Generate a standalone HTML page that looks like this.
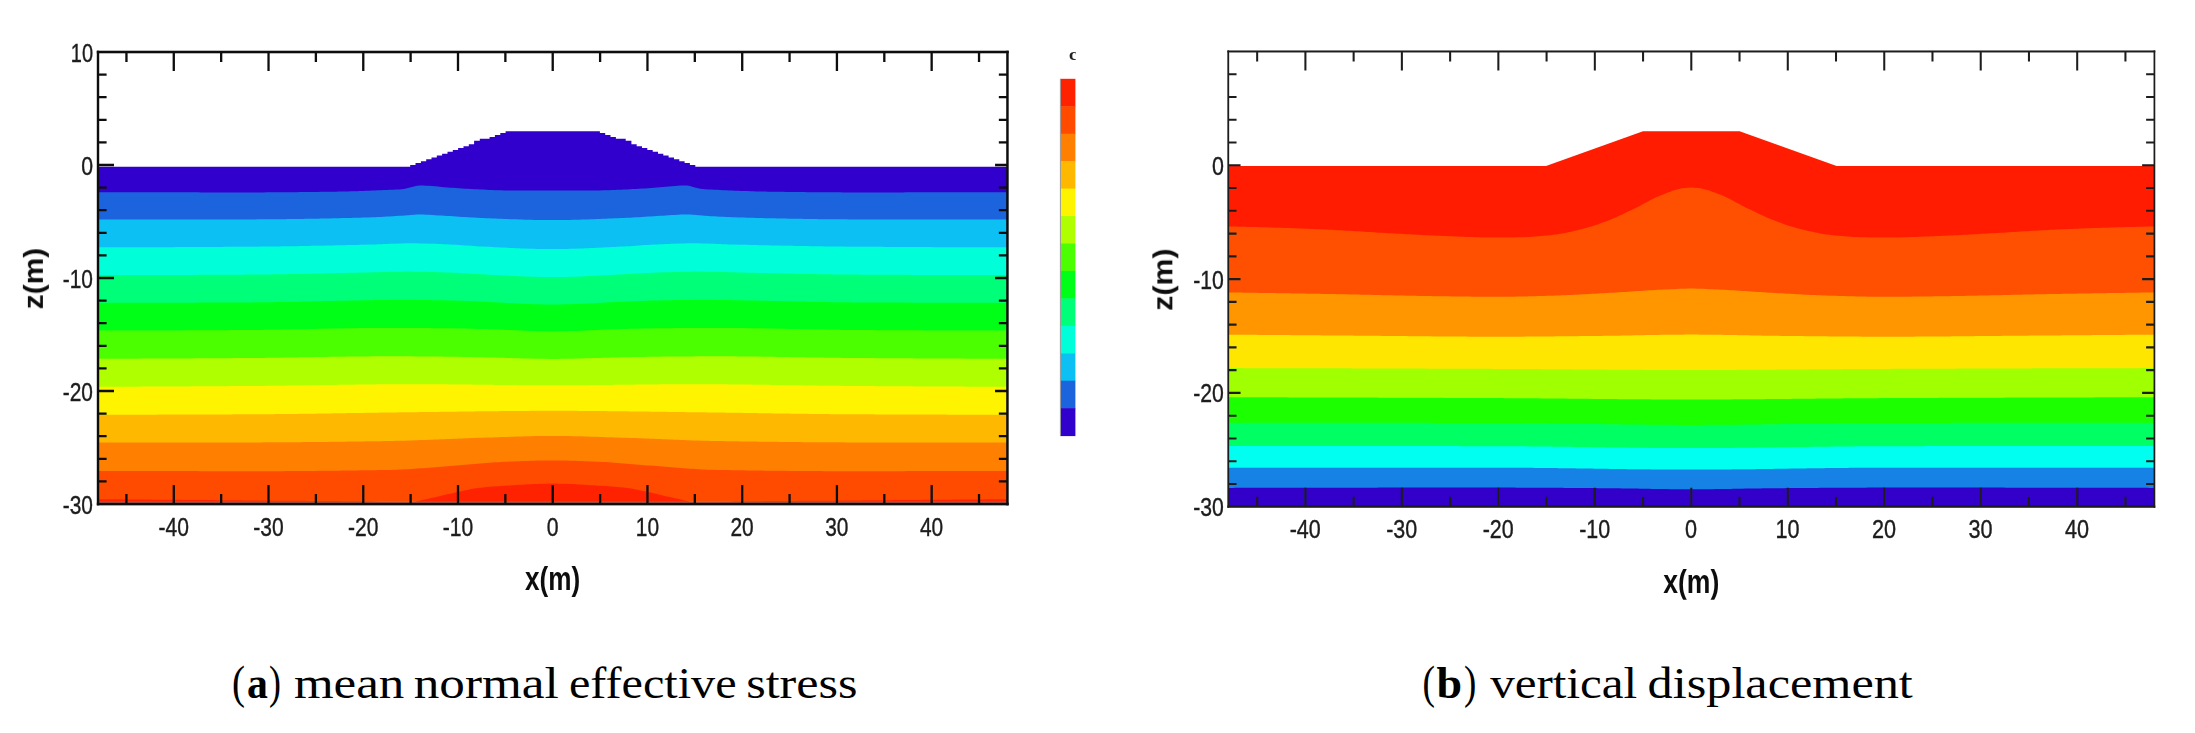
<!DOCTYPE html>
<html><head><meta charset="utf-8"><title>Figure</title>
<style>html,body{margin:0;padding:0;background:#fff}svg{display:block}text{white-space:pre}</style>
</head><body>
<svg width="2195" height="733" viewBox="0 0 2195 733">
<rect width="2195" height="733" fill="#fff"/>
<filter id="bl" x="-2%" y="-2%" width="104%" height="104%"><feGaussianBlur stdDeviation="0.55"/></filter>
<g filter="url(#bl)">
<clipPath id="ca"><rect x="98.0" y="40" width="909.45" height="464.0"/></clipPath>
<g clip-path="url(#ca)" shape-rendering="geometricPrecision">
<path d="M98.0,166.8 L410.2,166.8 L410.2,164.9 L415.5,164.9 L415.5,163.1 L420.9,163.1 L420.9,161.2 L426.2,161.2 L426.2,159.3 L431.5,159.3 L431.5,157.4 L436.8,157.4 L436.8,155.6 L442.1,155.6 L442.1,153.7 L447.5,153.7 L447.5,151.8 L452.8,151.8 L452.8,149.9 L458.1,149.9 L458.1,148.1 L463.5,148.1 L463.5,146.2 L468.8,146.2 L468.8,144.3 L474.1,144.3 L474.1,140.7 L479.8,140.7 L479.8,138.8 L489.6,138.8 L489.6,136.9 L494.9,136.9 L494.9,135.0 L500.3,135.0 L500.3,133.1 L505.6,133.1 L505.6,131.2 L510.9,131.2 L552.7,131.2 L594.5,131.2 L599.9,131.2 L599.9,133.1 L605.2,133.1 L605.2,135.0 L610.5,135.0 L610.5,136.9 L615.9,136.9 L615.9,138.8 L625.7,138.8 L625.7,140.7 L631.4,140.7 L631.4,144.3 L636.7,144.3 L636.7,146.2 L642.0,146.2 L642.0,148.1 L647.3,148.1 L647.3,149.9 L652.7,149.9 L652.7,151.8 L658.0,151.8 L658.0,153.7 L663.3,153.7 L663.3,155.6 L668.6,155.6 L668.6,157.4 L674.0,157.4 L674.0,159.3 L679.3,159.3 L679.3,161.2 L684.6,161.2 L684.6,163.1 L689.9,163.1 L689.9,164.9 L695.3,164.9 L695.3,166.8 L1007.5,166.8 L1007.45,504.0 L98.0,504.0 Z" fill="#3300cc"/>
<path d="M96.0,192.30 L99.0,192.30 L102.0,192.30 L105.0,192.30 L108.0,192.30 L111.0,192.30 L114.0,192.30 L117.0,192.30 L120.0,192.31 L123.0,192.31 L126.0,192.31 L129.0,192.31 L132.0,192.31 L135.0,192.31 L138.0,192.32 L141.0,192.32 L144.0,192.32 L147.0,192.32 L150.0,192.33 L153.0,192.33 L156.0,192.33 L159.0,192.34 L162.0,192.34 L165.0,192.34 L168.0,192.34 L171.0,192.35 L174.0,192.35 L177.0,192.35 L180.0,192.36 L183.0,192.36 L186.0,192.36 L189.0,192.36 L192.0,192.37 L195.0,192.37 L198.0,192.37 L201.0,192.38 L204.0,192.38 L207.0,192.38 L210.0,192.38 L213.0,192.39 L216.0,192.39 L219.0,192.39 L222.0,192.39 L225.0,192.39 L228.0,192.39 L231.0,192.40 L234.0,192.40 L237.0,192.40 L240.0,192.40 L243.0,192.40 L246.0,192.40 L249.0,192.40 L252.0,192.40 L255.0,192.40 L258.0,192.39 L261.0,192.38 L264.0,192.38 L267.0,192.36 L270.0,192.35 L273.0,192.34 L276.0,192.32 L279.0,192.30 L282.0,192.28 L285.0,192.26 L288.0,192.23 L291.0,192.21 L294.0,192.18 L297.0,192.15 L300.0,192.12 L303.0,192.09 L306.0,192.06 L309.0,192.02 L312.0,191.99 L315.0,191.95 L318.0,191.91 L321.0,191.87 L324.0,191.83 L327.0,191.79 L330.0,191.75 L333.0,191.70 L336.0,191.66 L339.0,191.62 L342.0,191.57 L345.0,191.51 L348.0,191.44 L351.0,191.36 L354.0,191.27 L357.0,191.17 L360.0,191.07 L363.0,190.96 L366.0,190.84 L369.0,190.72 L372.0,190.59 L375.0,190.47 L378.0,190.33 L381.0,190.20 L384.0,190.07 L387.0,189.93 L390.0,189.80 L393.0,189.68 L396.0,189.55 L399.0,189.39 L402.0,189.16 L405.0,188.70 L408.0,188.04 L411.0,187.33 L414.0,186.44 L417.0,185.75 L420.0,185.40 L423.0,185.47 L426.0,185.65 L429.0,185.84 L432.0,186.06 L435.0,186.32 L438.0,186.60 L441.0,186.89 L444.0,187.17 L447.0,187.42 L450.0,187.65 L453.0,187.86 L456.0,188.08 L459.0,188.28 L462.0,188.47 L465.0,188.66 L468.0,188.83 L471.0,188.99 L474.0,189.14 L477.0,189.30 L480.0,189.46 L483.0,189.61 L486.0,189.76 L489.0,189.90 L492.0,190.03 L495.0,190.15 L498.0,190.25 L501.0,190.32 L504.0,190.38 L507.0,190.41 L510.0,190.43 L513.0,190.45 L516.0,190.47 L519.0,190.49 L522.0,190.51 L525.0,190.53 L528.0,190.54 L531.0,190.55 L534.0,190.57 L537.0,190.58 L540.0,190.58 L543.0,190.59 L546.0,190.60 L549.0,190.60 L552.0,190.60 L555.0,190.60 L558.0,190.60 L561.0,190.59 L564.0,190.59 L567.0,190.58 L570.0,190.57 L573.0,190.56 L576.0,190.55 L579.0,190.53 L582.0,190.52 L585.0,190.50 L588.0,190.48 L591.0,190.46 L594.0,190.44 L597.0,190.42 L600.0,190.40 L603.0,190.35 L606.0,190.29 L609.0,190.20 L612.0,190.09 L615.0,189.97 L618.0,189.83 L621.0,189.69 L624.0,189.53 L627.0,189.38 L630.0,189.22 L633.0,189.06 L636.0,188.91 L639.0,188.74 L642.0,188.57 L645.0,188.38 L648.0,188.18 L651.0,187.97 L654.0,187.75 L657.0,187.53 L660.0,187.30 L663.0,187.03 L666.0,186.74 L669.0,186.46 L672.0,186.18 L675.0,185.94 L678.0,185.75 L681.0,185.55 L684.0,185.42 L687.0,185.53 L690.0,186.05 L693.0,186.91 L696.0,187.69 L699.0,188.39 L702.0,188.97 L705.0,189.29 L708.0,189.48 L711.0,189.62 L714.0,189.74 L717.0,189.87 L720.0,190.00 L723.0,190.14 L726.0,190.27 L729.0,190.40 L732.0,190.53 L735.0,190.66 L738.0,190.78 L741.0,190.90 L744.0,191.02 L747.0,191.12 L750.0,191.22 L753.0,191.32 L756.0,191.40 L759.0,191.48 L762.0,191.54 L765.0,191.59 L768.0,191.64 L771.0,191.68 L774.0,191.73 L777.0,191.77 L780.0,191.81 L783.0,191.85 L786.0,191.89 L789.0,191.93 L792.0,191.97 L795.0,192.00 L798.0,192.04 L801.0,192.07 L804.0,192.11 L807.0,192.14 L810.0,192.17 L813.0,192.19 L816.0,192.22 L819.0,192.25 L822.0,192.27 L825.0,192.29 L828.0,192.31 L831.0,192.33 L834.0,192.34 L837.0,192.36 L840.0,192.37 L843.0,192.38 L846.0,192.39 L849.0,192.39 L852.0,192.40 L855.0,192.40 L858.0,192.40 L861.0,192.40 L864.0,192.40 L867.0,192.40 L870.0,192.40 L873.0,192.40 L876.0,192.40 L879.0,192.39 L882.0,192.39 L885.0,192.39 L888.0,192.39 L891.0,192.39 L894.0,192.38 L897.0,192.38 L900.0,192.38 L903.0,192.38 L906.0,192.37 L909.0,192.37 L912.0,192.37 L915.0,192.37 L918.0,192.36 L921.0,192.36 L924.0,192.36 L927.0,192.35 L930.0,192.35 L933.0,192.35 L936.0,192.35 L939.0,192.34 L942.0,192.34 L945.0,192.34 L948.0,192.33 L951.0,192.33 L954.0,192.33 L957.0,192.33 L960.0,192.32 L963.0,192.32 L966.0,192.32 L969.0,192.32 L972.0,192.31 L975.0,192.31 L978.0,192.31 L981.0,192.31 L984.0,192.31 L987.0,192.30 L990.0,192.30 L993.0,192.30 L996.0,192.30 L999.0,192.30 L1002.0,192.30 L1005.0,192.30 L1008.0,192.30 L1011.0,192.30 L1011.0,506.0 L96.0,506.0 Z" fill="#1e64de"/>
<path d="M96.0,219.60 L99.0,219.60 L102.0,219.60 L105.0,219.60 L108.0,219.60 L111.0,219.60 L114.0,219.60 L117.0,219.60 L120.0,219.60 L123.0,219.59 L126.0,219.59 L129.0,219.59 L132.0,219.59 L135.0,219.59 L138.0,219.59 L141.0,219.58 L144.0,219.58 L147.0,219.58 L150.0,219.58 L153.0,219.57 L156.0,219.57 L159.0,219.57 L162.0,219.56 L165.0,219.56 L168.0,219.56 L171.0,219.55 L174.0,219.55 L177.0,219.54 L180.0,219.54 L183.0,219.54 L186.0,219.53 L189.0,219.53 L192.0,219.52 L195.0,219.52 L198.0,219.51 L201.0,219.51 L204.0,219.50 L207.0,219.49 L210.0,219.49 L213.0,219.48 L216.0,219.48 L219.0,219.47 L222.0,219.47 L225.0,219.46 L228.0,219.45 L231.0,219.45 L234.0,219.44 L237.0,219.43 L240.0,219.42 L243.0,219.42 L246.0,219.41 L249.0,219.40 L252.0,219.39 L255.0,219.38 L258.0,219.37 L261.0,219.35 L264.0,219.34 L267.0,219.32 L270.0,219.29 L273.0,219.27 L276.0,219.24 L279.0,219.21 L282.0,219.18 L285.0,219.14 L288.0,219.11 L291.0,219.07 L294.0,219.03 L297.0,218.98 L300.0,218.94 L303.0,218.89 L306.0,218.84 L309.0,218.79 L312.0,218.74 L315.0,218.68 L318.0,218.63 L321.0,218.57 L324.0,218.51 L327.0,218.44 L330.0,218.38 L333.0,218.32 L336.0,218.25 L339.0,218.18 L342.0,218.11 L345.0,218.04 L348.0,217.97 L351.0,217.89 L354.0,217.82 L357.0,217.74 L360.0,217.66 L363.0,217.58 L366.0,217.50 L369.0,217.41 L372.0,217.30 L375.0,217.18 L378.0,217.04 L381.0,216.89 L384.0,216.73 L387.0,216.56 L390.0,216.39 L393.0,216.21 L396.0,216.04 L399.0,215.86 L402.0,215.67 L405.0,215.42 L408.0,215.15 L411.0,214.88 L414.0,214.67 L417.0,214.53 L420.0,214.50 L423.0,214.56 L426.0,214.68 L429.0,214.83 L432.0,215.01 L435.0,215.21 L438.0,215.39 L441.0,215.55 L444.0,215.72 L447.0,215.90 L450.0,216.09 L453.0,216.28 L456.0,216.48 L459.0,216.68 L462.0,216.88 L465.0,217.07 L468.0,217.26 L471.0,217.44 L474.0,217.61 L477.0,217.77 L480.0,217.91 L483.0,218.04 L486.0,218.16 L489.0,218.29 L492.0,218.41 L495.0,218.54 L498.0,218.66 L501.0,218.79 L504.0,218.91 L507.0,219.02 L510.0,219.14 L513.0,219.25 L516.0,219.36 L519.0,219.46 L522.0,219.56 L525.0,219.65 L528.0,219.73 L531.0,219.81 L534.0,219.88 L537.0,219.94 L540.0,219.99 L543.0,220.04 L546.0,220.07 L549.0,220.09 L552.0,220.10 L555.0,220.10 L558.0,220.08 L561.0,220.06 L564.0,220.02 L567.0,219.98 L570.0,219.92 L573.0,219.85 L576.0,219.78 L579.0,219.70 L582.0,219.61 L585.0,219.52 L588.0,219.42 L591.0,219.31 L594.0,219.20 L597.0,219.09 L600.0,218.97 L603.0,218.85 L606.0,218.73 L609.0,218.60 L612.0,218.48 L615.0,218.35 L618.0,218.23 L621.0,218.10 L624.0,217.98 L627.0,217.84 L630.0,217.69 L633.0,217.53 L636.0,217.35 L639.0,217.16 L642.0,216.97 L645.0,216.77 L648.0,216.58 L651.0,216.38 L654.0,216.18 L657.0,215.99 L660.0,215.81 L663.0,215.63 L666.0,215.47 L669.0,215.30 L672.0,215.11 L675.0,214.92 L678.0,214.75 L681.0,214.61 L684.0,214.52 L687.0,214.50 L690.0,214.59 L693.0,214.77 L696.0,215.01 L699.0,215.29 L702.0,215.55 L705.0,215.77 L708.0,215.95 L711.0,216.13 L714.0,216.31 L717.0,216.48 L720.0,216.65 L723.0,216.81 L726.0,216.97 L729.0,217.11 L732.0,217.24 L735.0,217.36 L738.0,217.46 L741.0,217.54 L744.0,217.62 L747.0,217.70 L750.0,217.78 L753.0,217.86 L756.0,217.93 L759.0,218.00 L762.0,218.08 L765.0,218.15 L768.0,218.22 L771.0,218.28 L774.0,218.35 L777.0,218.41 L780.0,218.48 L783.0,218.54 L786.0,218.60 L789.0,218.65 L792.0,218.71 L795.0,218.76 L798.0,218.82 L801.0,218.87 L804.0,218.91 L807.0,218.96 L810.0,219.01 L813.0,219.05 L816.0,219.09 L819.0,219.13 L822.0,219.16 L825.0,219.19 L828.0,219.23 L831.0,219.25 L834.0,219.28 L837.0,219.31 L840.0,219.33 L843.0,219.35 L846.0,219.36 L849.0,219.38 L852.0,219.39 L855.0,219.40 L858.0,219.41 L861.0,219.41 L864.0,219.42 L867.0,219.43 L870.0,219.44 L873.0,219.44 L876.0,219.45 L879.0,219.46 L882.0,219.46 L885.0,219.47 L888.0,219.47 L891.0,219.48 L894.0,219.49 L897.0,219.49 L900.0,219.50 L903.0,219.50 L906.0,219.51 L909.0,219.51 L912.0,219.52 L915.0,219.52 L918.0,219.53 L921.0,219.53 L924.0,219.54 L927.0,219.54 L930.0,219.55 L933.0,219.55 L936.0,219.55 L939.0,219.56 L942.0,219.56 L945.0,219.56 L948.0,219.57 L951.0,219.57 L954.0,219.57 L957.0,219.58 L960.0,219.58 L963.0,219.58 L966.0,219.58 L969.0,219.59 L972.0,219.59 L975.0,219.59 L978.0,219.59 L981.0,219.59 L984.0,219.59 L987.0,219.60 L990.0,219.60 L993.0,219.60 L996.0,219.60 L999.0,219.60 L1002.0,219.60 L1005.0,219.60 L1008.0,219.60 L1011.0,219.60 L1011.0,506.0 L96.0,506.0 Z" fill="#0cc0f4"/>
<path d="M96.0,247.30 L99.0,247.30 L102.0,247.30 L105.0,247.30 L108.0,247.30 L111.0,247.29 L114.0,247.29 L117.0,247.29 L120.0,247.28 L123.0,247.28 L126.0,247.27 L129.0,247.27 L132.0,247.26 L135.0,247.26 L138.0,247.25 L141.0,247.24 L144.0,247.23 L147.0,247.22 L150.0,247.21 L153.0,247.21 L156.0,247.19 L159.0,247.18 L162.0,247.17 L165.0,247.16 L168.0,247.15 L171.0,247.14 L174.0,247.13 L177.0,247.11 L180.0,247.10 L183.0,247.09 L186.0,247.07 L189.0,247.06 L192.0,247.04 L195.0,247.03 L198.0,247.01 L201.0,247.00 L204.0,246.98 L207.0,246.96 L210.0,246.95 L213.0,246.93 L216.0,246.91 L219.0,246.89 L222.0,246.88 L225.0,246.86 L228.0,246.84 L231.0,246.82 L234.0,246.80 L237.0,246.78 L240.0,246.77 L243.0,246.75 L246.0,246.73 L249.0,246.71 L252.0,246.69 L255.0,246.66 L258.0,246.64 L261.0,246.61 L264.0,246.58 L267.0,246.55 L270.0,246.52 L273.0,246.48 L276.0,246.44 L279.0,246.41 L282.0,246.36 L285.0,246.32 L288.0,246.28 L291.0,246.23 L294.0,246.18 L297.0,246.13 L300.0,246.08 L303.0,246.03 L306.0,245.98 L309.0,245.92 L312.0,245.86 L315.0,245.81 L318.0,245.75 L321.0,245.69 L324.0,245.63 L327.0,245.56 L330.0,245.50 L333.0,245.44 L336.0,245.37 L339.0,245.31 L342.0,245.24 L345.0,245.17 L348.0,245.11 L351.0,245.04 L354.0,244.97 L357.0,244.90 L360.0,244.83 L363.0,244.76 L366.0,244.69 L369.0,244.62 L372.0,244.55 L375.0,244.46 L378.0,244.35 L381.0,244.24 L384.0,244.12 L387.0,243.99 L390.0,243.87 L393.0,243.75 L396.0,243.63 L399.0,243.53 L402.0,243.44 L405.0,243.37 L408.0,243.33 L411.0,243.30 L414.0,243.31 L417.0,243.33 L420.0,243.38 L423.0,243.45 L426.0,243.53 L429.0,243.63 L432.0,243.74 L435.0,243.85 L438.0,243.98 L441.0,244.11 L444.0,244.24 L447.0,244.37 L450.0,244.50 L453.0,244.64 L456.0,244.81 L459.0,245.00 L462.0,245.20 L465.0,245.41 L468.0,245.62 L471.0,245.83 L474.0,246.04 L477.0,246.23 L480.0,246.40 L483.0,246.55 L486.0,246.69 L489.0,246.84 L492.0,246.99 L495.0,247.14 L498.0,247.30 L501.0,247.45 L504.0,247.59 L507.0,247.74 L510.0,247.88 L513.0,248.02 L516.0,248.16 L519.0,248.29 L522.0,248.41 L525.0,248.53 L528.0,248.63 L531.0,248.73 L534.0,248.82 L537.0,248.90 L540.0,248.96 L543.0,249.02 L546.0,249.06 L549.0,249.09 L552.0,249.10 L555.0,249.10 L558.0,249.08 L561.0,249.05 L564.0,249.00 L567.0,248.94 L570.0,248.87 L573.0,248.79 L576.0,248.69 L579.0,248.59 L582.0,248.48 L585.0,248.36 L588.0,248.23 L591.0,248.10 L594.0,247.96 L597.0,247.82 L600.0,247.67 L603.0,247.52 L606.0,247.37 L609.0,247.22 L612.0,247.07 L615.0,246.92 L618.0,246.77 L621.0,246.62 L624.0,246.47 L627.0,246.31 L630.0,246.13 L633.0,245.93 L636.0,245.72 L639.0,245.51 L642.0,245.30 L645.0,245.09 L648.0,244.90 L651.0,244.72 L654.0,244.57 L657.0,244.43 L660.0,244.30 L663.0,244.17 L666.0,244.04 L669.0,243.91 L672.0,243.79 L675.0,243.68 L678.0,243.58 L681.0,243.49 L684.0,243.41 L687.0,243.35 L690.0,243.32 L693.0,243.30 L696.0,243.31 L699.0,243.35 L702.0,243.41 L705.0,243.49 L708.0,243.58 L711.0,243.69 L714.0,243.81 L717.0,243.93 L720.0,244.06 L723.0,244.18 L726.0,244.30 L729.0,244.41 L732.0,244.51 L735.0,244.59 L738.0,244.66 L741.0,244.73 L744.0,244.80 L747.0,244.87 L750.0,244.94 L753.0,245.01 L756.0,245.07 L759.0,245.14 L762.0,245.21 L765.0,245.28 L768.0,245.34 L771.0,245.41 L774.0,245.47 L777.0,245.53 L780.0,245.60 L783.0,245.66 L786.0,245.72 L789.0,245.78 L792.0,245.84 L795.0,245.89 L798.0,245.95 L801.0,246.00 L804.0,246.06 L807.0,246.11 L810.0,246.16 L813.0,246.21 L816.0,246.25 L819.0,246.30 L822.0,246.34 L825.0,246.39 L828.0,246.43 L831.0,246.46 L834.0,246.50 L837.0,246.54 L840.0,246.57 L843.0,246.60 L846.0,246.63 L849.0,246.65 L852.0,246.68 L855.0,246.70 L858.0,246.72 L861.0,246.74 L864.0,246.76 L867.0,246.77 L870.0,246.79 L873.0,246.81 L876.0,246.83 L879.0,246.85 L882.0,246.87 L885.0,246.89 L888.0,246.90 L891.0,246.92 L894.0,246.94 L897.0,246.95 L900.0,246.97 L903.0,246.99 L906.0,247.00 L909.0,247.02 L912.0,247.03 L915.0,247.05 L918.0,247.06 L921.0,247.08 L924.0,247.09 L927.0,247.11 L930.0,247.12 L933.0,247.13 L936.0,247.14 L939.0,247.16 L942.0,247.17 L945.0,247.18 L948.0,247.19 L951.0,247.20 L954.0,247.21 L957.0,247.22 L960.0,247.23 L963.0,247.24 L966.0,247.24 L969.0,247.25 L972.0,247.26 L975.0,247.27 L978.0,247.27 L981.0,247.28 L984.0,247.28 L987.0,247.29 L990.0,247.29 L993.0,247.29 L996.0,247.30 L999.0,247.30 L1002.0,247.30 L1005.0,247.30 L1008.0,247.30 L1011.0,247.30 L1011.0,506.0 L96.0,506.0 Z" fill="#00ffd8"/>
<path d="M96.0,275.10 L99.0,275.10 L102.0,275.10 L105.0,275.10 L108.0,275.10 L111.0,275.10 L114.0,275.09 L117.0,275.09 L120.0,275.09 L123.0,275.08 L126.0,275.08 L129.0,275.08 L132.0,275.07 L135.0,275.06 L138.0,275.06 L141.0,275.05 L144.0,275.05 L147.0,275.04 L150.0,275.03 L153.0,275.02 L156.0,275.02 L159.0,275.01 L162.0,275.00 L165.0,274.99 L168.0,274.98 L171.0,274.97 L174.0,274.96 L177.0,274.95 L180.0,274.94 L183.0,274.93 L186.0,274.92 L189.0,274.90 L192.0,274.89 L195.0,274.88 L198.0,274.87 L201.0,274.85 L204.0,274.84 L207.0,274.83 L210.0,274.81 L213.0,274.80 L216.0,274.78 L219.0,274.77 L222.0,274.75 L225.0,274.74 L228.0,274.72 L231.0,274.71 L234.0,274.69 L237.0,274.67 L240.0,274.66 L243.0,274.64 L246.0,274.62 L249.0,274.61 L252.0,274.59 L255.0,274.57 L258.0,274.54 L261.0,274.51 L264.0,274.48 L267.0,274.44 L270.0,274.41 L273.0,274.37 L276.0,274.32 L279.0,274.28 L282.0,274.23 L285.0,274.18 L288.0,274.12 L291.0,274.07 L294.0,274.01 L297.0,273.95 L300.0,273.89 L303.0,273.83 L306.0,273.77 L309.0,273.71 L312.0,273.64 L315.0,273.58 L318.0,273.51 L321.0,273.44 L324.0,273.38 L327.0,273.31 L330.0,273.24 L333.0,273.17 L336.0,273.11 L339.0,273.04 L342.0,272.98 L345.0,272.91 L348.0,272.85 L351.0,272.78 L354.0,272.72 L357.0,272.66 L360.0,272.60 L363.0,272.54 L366.0,272.47 L369.0,272.39 L372.0,272.31 L375.0,272.23 L378.0,272.15 L381.0,272.06 L384.0,271.98 L387.0,271.91 L390.0,271.83 L393.0,271.77 L396.0,271.71 L399.0,271.67 L402.0,271.63 L405.0,271.61 L408.0,271.60 L411.0,271.61 L414.0,271.63 L417.0,271.67 L420.0,271.72 L423.0,271.78 L426.0,271.85 L429.0,271.92 L432.0,272.01 L435.0,272.10 L438.0,272.20 L441.0,272.30 L444.0,272.40 L447.0,272.50 L450.0,272.60 L453.0,272.71 L456.0,272.85 L459.0,273.00 L462.0,273.16 L465.0,273.34 L468.0,273.52 L471.0,273.70 L474.0,273.88 L477.0,274.05 L480.0,274.20 L483.0,274.35 L486.0,274.49 L489.0,274.64 L492.0,274.79 L495.0,274.95 L498.0,275.11 L501.0,275.26 L504.0,275.42 L507.0,275.58 L510.0,275.74 L513.0,275.89 L516.0,276.04 L519.0,276.18 L522.0,276.32 L525.0,276.45 L528.0,276.57 L531.0,276.68 L534.0,276.78 L537.0,276.87 L540.0,276.94 L543.0,277.00 L546.0,277.05 L549.0,277.08 L552.0,277.10 L555.0,277.10 L558.0,277.07 L561.0,277.04 L564.0,276.98 L567.0,276.92 L570.0,276.83 L573.0,276.74 L576.0,276.63 L579.0,276.52 L582.0,276.39 L585.0,276.26 L588.0,276.12 L591.0,275.97 L594.0,275.82 L597.0,275.67 L600.0,275.51 L603.0,275.35 L606.0,275.19 L609.0,275.03 L612.0,274.87 L615.0,274.71 L618.0,274.56 L621.0,274.42 L624.0,274.27 L627.0,274.12 L630.0,273.96 L633.0,273.79 L636.0,273.61 L639.0,273.43 L642.0,273.25 L645.0,273.08 L648.0,272.92 L651.0,272.78 L654.0,272.65 L657.0,272.55 L660.0,272.45 L663.0,272.35 L666.0,272.24 L669.0,272.15 L672.0,272.05 L675.0,271.97 L678.0,271.88 L681.0,271.81 L684.0,271.74 L687.0,271.69 L690.0,271.65 L693.0,271.62 L696.0,271.60 L699.0,271.60 L702.0,271.62 L705.0,271.65 L708.0,271.69 L711.0,271.74 L714.0,271.80 L717.0,271.87 L720.0,271.94 L723.0,272.02 L726.0,272.11 L729.0,272.19 L732.0,272.27 L735.0,272.35 L738.0,272.43 L741.0,272.50 L744.0,272.57 L747.0,272.63 L750.0,272.69 L753.0,272.75 L756.0,272.82 L759.0,272.88 L762.0,272.94 L765.0,273.01 L768.0,273.08 L771.0,273.14 L774.0,273.21 L777.0,273.28 L780.0,273.34 L783.0,273.41 L786.0,273.48 L789.0,273.54 L792.0,273.61 L795.0,273.67 L798.0,273.74 L801.0,273.80 L804.0,273.86 L807.0,273.92 L810.0,273.98 L813.0,274.04 L816.0,274.10 L819.0,274.15 L822.0,274.20 L825.0,274.25 L828.0,274.30 L831.0,274.34 L834.0,274.39 L837.0,274.43 L840.0,274.46 L843.0,274.50 L846.0,274.53 L849.0,274.55 L852.0,274.58 L855.0,274.60 L858.0,274.61 L861.0,274.63 L864.0,274.65 L867.0,274.67 L870.0,274.68 L873.0,274.70 L876.0,274.71 L879.0,274.73 L882.0,274.75 L885.0,274.76 L888.0,274.78 L891.0,274.79 L894.0,274.80 L897.0,274.82 L900.0,274.83 L903.0,274.85 L906.0,274.86 L909.0,274.87 L912.0,274.89 L915.0,274.90 L918.0,274.91 L921.0,274.92 L924.0,274.93 L927.0,274.94 L930.0,274.95 L933.0,274.97 L936.0,274.98 L939.0,274.99 L942.0,274.99 L945.0,275.00 L948.0,275.01 L951.0,275.02 L954.0,275.03 L957.0,275.04 L960.0,275.04 L963.0,275.05 L966.0,275.06 L969.0,275.06 L972.0,275.07 L975.0,275.07 L978.0,275.08 L981.0,275.08 L984.0,275.09 L987.0,275.09 L990.0,275.09 L993.0,275.09 L996.0,275.10 L999.0,275.10 L1002.0,275.10 L1005.0,275.10 L1008.0,275.10 L1011.0,275.10 L1011.0,506.0 L96.0,506.0 Z" fill="#00ff78"/>
<path d="M96.0,302.80 L99.0,302.80 L102.0,302.80 L105.0,302.80 L108.0,302.80 L111.0,302.80 L114.0,302.79 L117.0,302.79 L120.0,302.79 L123.0,302.79 L126.0,302.78 L129.0,302.78 L132.0,302.78 L135.0,302.77 L138.0,302.77 L141.0,302.76 L144.0,302.76 L147.0,302.75 L150.0,302.75 L153.0,302.74 L156.0,302.74 L159.0,302.73 L162.0,302.72 L165.0,302.72 L168.0,302.71 L171.0,302.70 L174.0,302.69 L177.0,302.68 L180.0,302.67 L183.0,302.67 L186.0,302.66 L189.0,302.65 L192.0,302.64 L195.0,302.63 L198.0,302.62 L201.0,302.61 L204.0,302.60 L207.0,302.58 L210.0,302.57 L213.0,302.56 L216.0,302.55 L219.0,302.54 L222.0,302.53 L225.0,302.51 L228.0,302.50 L231.0,302.49 L234.0,302.47 L237.0,302.46 L240.0,302.45 L243.0,302.43 L246.0,302.42 L249.0,302.40 L252.0,302.39 L255.0,302.37 L258.0,302.34 L261.0,302.32 L264.0,302.28 L267.0,302.24 L270.0,302.20 L273.0,302.16 L276.0,302.11 L279.0,302.06 L282.0,302.01 L285.0,301.95 L288.0,301.90 L291.0,301.84 L294.0,301.77 L297.0,301.71 L300.0,301.65 L303.0,301.58 L306.0,301.52 L309.0,301.45 L312.0,301.38 L315.0,301.31 L318.0,301.25 L321.0,301.18 L324.0,301.11 L327.0,301.05 L330.0,300.98 L333.0,300.92 L336.0,300.86 L339.0,300.80 L342.0,300.74 L345.0,300.69 L348.0,300.63 L351.0,300.58 L354.0,300.53 L357.0,300.47 L360.0,300.41 L363.0,300.35 L366.0,300.29 L369.0,300.23 L372.0,300.16 L375.0,300.10 L378.0,300.05 L381.0,299.99 L384.0,299.94 L387.0,299.90 L390.0,299.86 L393.0,299.84 L396.0,299.81 L399.0,299.80 L402.0,299.80 L405.0,299.81 L408.0,299.82 L411.0,299.84 L414.0,299.87 L417.0,299.90 L420.0,299.94 L423.0,299.98 L426.0,300.03 L429.0,300.08 L432.0,300.13 L435.0,300.19 L438.0,300.25 L441.0,300.31 L444.0,300.37 L447.0,300.44 L450.0,300.50 L453.0,300.57 L456.0,300.66 L459.0,300.76 L462.0,300.87 L465.0,300.99 L468.0,301.12 L471.0,301.24 L474.0,301.37 L477.0,301.50 L480.0,301.62 L483.0,301.74 L486.0,301.86 L489.0,301.99 L492.0,302.13 L495.0,302.28 L498.0,302.43 L501.0,302.58 L504.0,302.74 L507.0,302.90 L510.0,303.06 L513.0,303.21 L516.0,303.37 L519.0,303.51 L522.0,303.66 L525.0,303.79 L528.0,303.92 L531.0,304.04 L534.0,304.15 L537.0,304.24 L540.0,304.33 L543.0,304.40 L546.0,304.45 L549.0,304.48 L552.0,304.50 L555.0,304.50 L558.0,304.47 L561.0,304.43 L564.0,304.37 L567.0,304.30 L570.0,304.21 L573.0,304.11 L576.0,303.99 L579.0,303.87 L582.0,303.74 L585.0,303.60 L588.0,303.45 L591.0,303.30 L594.0,303.14 L597.0,302.98 L600.0,302.83 L603.0,302.67 L606.0,302.51 L609.0,302.36 L612.0,302.21 L615.0,302.06 L618.0,301.93 L621.0,301.80 L624.0,301.68 L627.0,301.56 L630.0,301.43 L633.0,301.31 L636.0,301.18 L639.0,301.05 L642.0,300.93 L645.0,300.81 L648.0,300.71 L651.0,300.61 L654.0,300.53 L657.0,300.47 L660.0,300.40 L663.0,300.34 L666.0,300.28 L669.0,300.22 L672.0,300.16 L675.0,300.10 L678.0,300.05 L681.0,300.00 L684.0,299.96 L687.0,299.92 L690.0,299.88 L693.0,299.85 L696.0,299.83 L699.0,299.81 L702.0,299.80 L705.0,299.80 L708.0,299.81 L711.0,299.82 L714.0,299.85 L717.0,299.88 L720.0,299.92 L723.0,299.97 L726.0,300.02 L729.0,300.08 L732.0,300.13 L735.0,300.19 L738.0,300.26 L741.0,300.32 L744.0,300.38 L747.0,300.44 L750.0,300.50 L753.0,300.56 L756.0,300.61 L759.0,300.66 L762.0,300.72 L765.0,300.77 L768.0,300.83 L771.0,300.89 L774.0,300.95 L777.0,301.02 L780.0,301.08 L783.0,301.15 L786.0,301.21 L789.0,301.28 L792.0,301.35 L795.0,301.42 L798.0,301.48 L801.0,301.55 L804.0,301.62 L807.0,301.68 L810.0,301.74 L813.0,301.81 L816.0,301.87 L819.0,301.93 L822.0,301.98 L825.0,302.04 L828.0,302.09 L831.0,302.14 L834.0,302.18 L837.0,302.23 L840.0,302.26 L843.0,302.30 L846.0,302.33 L849.0,302.36 L852.0,302.38 L855.0,302.40 L858.0,302.41 L861.0,302.43 L864.0,302.44 L867.0,302.45 L870.0,302.47 L873.0,302.48 L876.0,302.49 L879.0,302.51 L882.0,302.52 L885.0,302.53 L888.0,302.54 L891.0,302.56 L894.0,302.57 L897.0,302.58 L900.0,302.59 L903.0,302.60 L906.0,302.61 L909.0,302.62 L912.0,302.63 L915.0,302.64 L918.0,302.65 L921.0,302.66 L924.0,302.67 L927.0,302.68 L930.0,302.69 L933.0,302.70 L936.0,302.70 L939.0,302.71 L942.0,302.72 L945.0,302.73 L948.0,302.73 L951.0,302.74 L954.0,302.75 L957.0,302.75 L960.0,302.76 L963.0,302.76 L966.0,302.77 L969.0,302.77 L972.0,302.78 L975.0,302.78 L978.0,302.78 L981.0,302.79 L984.0,302.79 L987.0,302.79 L990.0,302.79 L993.0,302.80 L996.0,302.80 L999.0,302.80 L1002.0,302.80 L1005.0,302.80 L1008.0,302.80 L1011.0,302.80 L1011.0,506.0 L96.0,506.0 Z" fill="#00ff14"/>
<path d="M96.0,330.60 L99.0,330.60 L102.0,330.60 L105.0,330.60 L108.0,330.60 L111.0,330.59 L114.0,330.59 L117.0,330.59 L120.0,330.58 L123.0,330.58 L126.0,330.57 L129.0,330.57 L132.0,330.56 L135.0,330.55 L138.0,330.55 L141.0,330.54 L144.0,330.53 L147.0,330.52 L150.0,330.51 L153.0,330.50 L156.0,330.49 L159.0,330.48 L162.0,330.47 L165.0,330.46 L168.0,330.45 L171.0,330.43 L174.0,330.42 L177.0,330.41 L180.0,330.39 L183.0,330.38 L186.0,330.36 L189.0,330.35 L192.0,330.34 L195.0,330.32 L198.0,330.30 L201.0,330.29 L204.0,330.27 L207.0,330.26 L210.0,330.24 L213.0,330.22 L216.0,330.21 L219.0,330.19 L222.0,330.17 L225.0,330.15 L228.0,330.14 L231.0,330.12 L234.0,330.10 L237.0,330.08 L240.0,330.06 L243.0,330.04 L246.0,330.03 L249.0,330.01 L252.0,329.99 L255.0,329.96 L258.0,329.94 L261.0,329.90 L264.0,329.87 L267.0,329.83 L270.0,329.79 L273.0,329.75 L276.0,329.70 L279.0,329.65 L282.0,329.60 L285.0,329.54 L288.0,329.49 L291.0,329.43 L294.0,329.37 L297.0,329.31 L300.0,329.25 L303.0,329.19 L306.0,329.13 L309.0,329.06 L312.0,329.00 L315.0,328.94 L318.0,328.87 L321.0,328.81 L324.0,328.75 L327.0,328.68 L330.0,328.62 L333.0,328.56 L336.0,328.50 L339.0,328.45 L342.0,328.39 L345.0,328.34 L348.0,328.29 L351.0,328.24 L354.0,328.19 L357.0,328.15 L360.0,328.11 L363.0,328.07 L366.0,328.03 L369.0,328.00 L372.0,327.98 L375.0,327.95 L378.0,327.93 L381.0,327.92 L384.0,327.91 L387.0,327.90 L390.0,327.90 L393.0,327.90 L396.0,327.91 L399.0,327.92 L402.0,327.93 L405.0,327.94 L408.0,327.95 L411.0,327.97 L414.0,327.99 L417.0,328.01 L420.0,328.03 L423.0,328.05 L426.0,328.08 L429.0,328.10 L432.0,328.13 L435.0,328.15 L438.0,328.18 L441.0,328.21 L444.0,328.24 L447.0,328.28 L450.0,328.32 L453.0,328.37 L456.0,328.43 L459.0,328.48 L462.0,328.54 L465.0,328.61 L468.0,328.67 L471.0,328.74 L474.0,328.81 L477.0,328.88 L480.0,328.95 L483.0,329.02 L486.0,329.11 L489.0,329.20 L492.0,329.31 L495.0,329.42 L498.0,329.54 L501.0,329.67 L504.0,329.80 L507.0,329.93 L510.0,330.07 L513.0,330.21 L516.0,330.34 L519.0,330.48 L522.0,330.61 L525.0,330.73 L528.0,330.85 L531.0,330.96 L534.0,331.06 L537.0,331.16 L540.0,331.23 L543.0,331.30 L546.0,331.35 L549.0,331.38 L552.0,331.40 L555.0,331.40 L558.0,331.37 L561.0,331.33 L564.0,331.28 L567.0,331.21 L570.0,331.12 L573.0,331.03 L576.0,330.92 L579.0,330.81 L582.0,330.68 L585.0,330.55 L588.0,330.42 L591.0,330.28 L594.0,330.15 L597.0,330.01 L600.0,329.87 L603.0,329.74 L606.0,329.60 L609.0,329.48 L612.0,329.36 L615.0,329.25 L618.0,329.15 L621.0,329.06 L624.0,328.99 L627.0,328.92 L630.0,328.84 L633.0,328.77 L636.0,328.71 L639.0,328.64 L642.0,328.57 L645.0,328.51 L648.0,328.45 L651.0,328.40 L654.0,328.35 L657.0,328.30 L660.0,328.26 L663.0,328.22 L666.0,328.20 L669.0,328.17 L672.0,328.14 L675.0,328.11 L678.0,328.09 L681.0,328.06 L684.0,328.04 L687.0,328.02 L690.0,328.00 L693.0,327.98 L696.0,327.96 L699.0,327.95 L702.0,327.93 L705.0,327.92 L708.0,327.91 L711.0,327.90 L714.0,327.90 L717.0,327.90 L720.0,327.90 L723.0,327.91 L726.0,327.92 L729.0,327.94 L732.0,327.96 L735.0,327.99 L738.0,328.02 L741.0,328.05 L744.0,328.09 L747.0,328.13 L750.0,328.17 L753.0,328.21 L756.0,328.26 L759.0,328.31 L762.0,328.37 L765.0,328.42 L768.0,328.48 L771.0,328.53 L774.0,328.59 L777.0,328.65 L780.0,328.72 L783.0,328.78 L786.0,328.84 L789.0,328.90 L792.0,328.97 L795.0,329.03 L798.0,329.10 L801.0,329.16 L804.0,329.22 L807.0,329.28 L810.0,329.34 L813.0,329.40 L816.0,329.46 L819.0,329.52 L822.0,329.57 L825.0,329.62 L828.0,329.67 L831.0,329.72 L834.0,329.77 L837.0,329.81 L840.0,329.85 L843.0,329.89 L846.0,329.92 L849.0,329.95 L852.0,329.98 L855.0,330.00 L858.0,330.02 L861.0,330.03 L864.0,330.05 L867.0,330.07 L870.0,330.09 L873.0,330.11 L876.0,330.13 L879.0,330.14 L882.0,330.16 L885.0,330.18 L888.0,330.20 L891.0,330.21 L894.0,330.23 L897.0,330.25 L900.0,330.26 L903.0,330.28 L906.0,330.30 L909.0,330.31 L912.0,330.33 L915.0,330.34 L918.0,330.36 L921.0,330.37 L924.0,330.39 L927.0,330.40 L930.0,330.41 L933.0,330.43 L936.0,330.44 L939.0,330.45 L942.0,330.46 L945.0,330.47 L948.0,330.49 L951.0,330.50 L954.0,330.51 L957.0,330.52 L960.0,330.53 L963.0,330.53 L966.0,330.54 L969.0,330.55 L972.0,330.56 L975.0,330.56 L978.0,330.57 L981.0,330.58 L984.0,330.58 L987.0,330.59 L990.0,330.59 L993.0,330.59 L996.0,330.60 L999.0,330.60 L1002.0,330.60 L1005.0,330.60 L1008.0,330.60 L1011.0,330.60 L1011.0,506.0 L96.0,506.0 Z" fill="#4cff00"/>
<path d="M96.0,358.70 L99.0,358.70 L102.0,358.70 L105.0,358.70 L108.0,358.70 L111.0,358.69 L114.0,358.69 L117.0,358.68 L120.0,358.68 L123.0,358.67 L126.0,358.67 L129.0,358.66 L132.0,358.65 L135.0,358.64 L138.0,358.63 L141.0,358.62 L144.0,358.61 L147.0,358.60 L150.0,358.59 L153.0,358.58 L156.0,358.56 L159.0,358.55 L162.0,358.54 L165.0,358.52 L168.0,358.51 L171.0,358.49 L174.0,358.48 L177.0,358.46 L180.0,358.45 L183.0,358.43 L186.0,358.41 L189.0,358.40 L192.0,358.38 L195.0,358.36 L198.0,358.34 L201.0,358.32 L204.0,358.30 L207.0,358.29 L210.0,358.27 L213.0,358.25 L216.0,358.23 L219.0,358.21 L222.0,358.19 L225.0,358.17 L228.0,358.15 L231.0,358.13 L234.0,358.11 L237.0,358.09 L240.0,358.07 L243.0,358.05 L246.0,358.03 L249.0,358.01 L252.0,357.99 L255.0,357.96 L258.0,357.94 L261.0,357.91 L264.0,357.88 L267.0,357.84 L270.0,357.81 L273.0,357.77 L276.0,357.73 L279.0,357.69 L282.0,357.64 L285.0,357.60 L288.0,357.55 L291.0,357.51 L294.0,357.46 L297.0,357.41 L300.0,357.36 L303.0,357.31 L306.0,357.26 L309.0,357.21 L312.0,357.16 L315.0,357.11 L318.0,357.06 L321.0,357.01 L324.0,356.96 L327.0,356.91 L330.0,356.86 L333.0,356.81 L336.0,356.77 L339.0,356.72 L342.0,356.68 L345.0,356.64 L348.0,356.60 L351.0,356.56 L354.0,356.52 L357.0,356.49 L360.0,356.46 L363.0,356.43 L366.0,356.40 L369.0,356.38 L372.0,356.36 L375.0,356.34 L378.0,356.32 L381.0,356.31 L384.0,356.31 L387.0,356.30 L390.0,356.30 L393.0,356.30 L396.0,356.31 L399.0,356.32 L402.0,356.33 L405.0,356.34 L408.0,356.35 L411.0,356.37 L414.0,356.39 L417.0,356.41 L420.0,356.43 L423.0,356.46 L426.0,356.48 L429.0,356.50 L432.0,356.53 L435.0,356.56 L438.0,356.58 L441.0,356.61 L444.0,356.64 L447.0,356.68 L450.0,356.72 L453.0,356.76 L456.0,356.81 L459.0,356.86 L462.0,356.92 L465.0,356.97 L468.0,357.03 L471.0,357.09 L474.0,357.15 L477.0,357.20 L480.0,357.26 L483.0,357.32 L486.0,357.38 L489.0,357.45 L492.0,357.53 L495.0,357.61 L498.0,357.69 L501.0,357.78 L504.0,357.86 L507.0,357.95 L510.0,358.04 L513.0,358.13 L516.0,358.22 L519.0,358.31 L522.0,358.40 L525.0,358.48 L528.0,358.55 L531.0,358.62 L534.0,358.69 L537.0,358.75 L540.0,358.80 L543.0,358.84 L546.0,358.87 L549.0,358.89 L552.0,358.90 L555.0,358.90 L558.0,358.88 L561.0,358.86 L564.0,358.82 L567.0,358.78 L570.0,358.72 L573.0,358.66 L576.0,358.60 L579.0,358.52 L582.0,358.44 L585.0,358.36 L588.0,358.27 L591.0,358.19 L594.0,358.09 L597.0,358.00 L600.0,357.91 L603.0,357.82 L606.0,357.73 L609.0,357.65 L612.0,357.57 L615.0,357.49 L618.0,357.42 L621.0,357.35 L624.0,357.29 L627.0,357.23 L630.0,357.17 L633.0,357.11 L636.0,357.06 L639.0,357.00 L642.0,356.94 L645.0,356.89 L648.0,356.83 L651.0,356.78 L654.0,356.74 L657.0,356.70 L660.0,356.66 L663.0,356.62 L666.0,356.60 L669.0,356.57 L672.0,356.54 L675.0,356.52 L678.0,356.49 L681.0,356.47 L684.0,356.44 L687.0,356.42 L690.0,356.40 L693.0,356.38 L696.0,356.36 L699.0,356.35 L702.0,356.33 L705.0,356.32 L708.0,356.31 L711.0,356.30 L714.0,356.30 L717.0,356.30 L720.0,356.30 L723.0,356.31 L726.0,356.32 L729.0,356.33 L732.0,356.35 L735.0,356.37 L738.0,356.39 L741.0,356.42 L744.0,356.44 L747.0,356.47 L750.0,356.51 L753.0,356.54 L756.0,356.58 L759.0,356.62 L762.0,356.66 L765.0,356.70 L768.0,356.75 L771.0,356.79 L774.0,356.84 L777.0,356.89 L780.0,356.93 L783.0,356.98 L786.0,357.03 L789.0,357.08 L792.0,357.13 L795.0,357.18 L798.0,357.24 L801.0,357.29 L804.0,357.34 L807.0,357.39 L810.0,357.43 L813.0,357.48 L816.0,357.53 L819.0,357.58 L822.0,357.62 L825.0,357.67 L828.0,357.71 L831.0,357.75 L834.0,357.79 L837.0,357.82 L840.0,357.86 L843.0,357.89 L846.0,357.92 L849.0,357.95 L852.0,357.97 L855.0,358.00 L858.0,358.02 L861.0,358.04 L864.0,358.06 L867.0,358.08 L870.0,358.10 L873.0,358.12 L876.0,358.14 L879.0,358.16 L882.0,358.18 L885.0,358.20 L888.0,358.22 L891.0,358.24 L894.0,358.26 L897.0,358.28 L900.0,358.30 L903.0,358.31 L906.0,358.33 L909.0,358.35 L912.0,358.37 L915.0,358.39 L918.0,358.40 L921.0,358.42 L924.0,358.44 L927.0,358.45 L930.0,358.47 L933.0,358.49 L936.0,358.50 L939.0,358.52 L942.0,358.53 L945.0,358.54 L948.0,358.56 L951.0,358.57 L954.0,358.58 L957.0,358.60 L960.0,358.61 L963.0,358.62 L966.0,358.63 L969.0,358.64 L972.0,358.65 L975.0,358.65 L978.0,358.66 L981.0,358.67 L984.0,358.68 L987.0,358.68 L990.0,358.69 L993.0,358.69 L996.0,358.69 L999.0,358.70 L1002.0,358.70 L1005.0,358.70 L1008.0,358.70 L1011.0,358.70 L1011.0,506.0 L96.0,506.0 Z" fill="#b0ff00"/>
<path d="M96.0,386.70 L99.0,386.70 L102.0,386.70 L105.0,386.70 L108.0,386.70 L111.0,386.69 L114.0,386.69 L117.0,386.68 L120.0,386.68 L123.0,386.67 L126.0,386.66 L129.0,386.66 L132.0,386.65 L135.0,386.64 L138.0,386.63 L141.0,386.62 L144.0,386.61 L147.0,386.60 L150.0,386.59 L153.0,386.57 L156.0,386.56 L159.0,386.55 L162.0,386.53 L165.0,386.52 L168.0,386.50 L171.0,386.49 L174.0,386.47 L177.0,386.46 L180.0,386.44 L183.0,386.42 L186.0,386.41 L189.0,386.39 L192.0,386.37 L195.0,386.35 L198.0,386.34 L201.0,386.32 L204.0,386.30 L207.0,386.28 L210.0,386.26 L213.0,386.24 L216.0,386.22 L219.0,386.20 L222.0,386.18 L225.0,386.16 L228.0,386.14 L231.0,386.12 L234.0,386.10 L237.0,386.08 L240.0,386.07 L243.0,386.05 L246.0,386.03 L249.0,386.01 L252.0,385.99 L255.0,385.96 L258.0,385.94 L261.0,385.91 L264.0,385.89 L267.0,385.86 L270.0,385.82 L273.0,385.79 L276.0,385.76 L279.0,385.72 L282.0,385.68 L285.0,385.64 L288.0,385.61 L291.0,385.56 L294.0,385.52 L297.0,385.48 L300.0,385.44 L303.0,385.39 L306.0,385.35 L309.0,385.30 L312.0,385.26 L315.0,385.21 L318.0,385.17 L321.0,385.12 L324.0,385.07 L327.0,385.03 L330.0,384.98 L333.0,384.94 L336.0,384.89 L339.0,384.85 L342.0,384.81 L345.0,384.76 L348.0,384.72 L351.0,384.68 L354.0,384.64 L357.0,384.60 L360.0,384.56 L363.0,384.53 L366.0,384.49 L369.0,384.46 L372.0,384.43 L375.0,384.40 L378.0,384.37 L381.0,384.34 L384.0,384.32 L387.0,384.29 L390.0,384.27 L393.0,384.26 L396.0,384.24 L399.0,384.23 L402.0,384.22 L405.0,384.21 L408.0,384.20 L411.0,384.20 L414.0,384.20 L417.0,384.20 L420.0,384.21 L423.0,384.22 L426.0,384.23 L429.0,384.24 L432.0,384.26 L435.0,384.28 L438.0,384.30 L441.0,384.32 L444.0,384.34 L447.0,384.37 L450.0,384.40 L453.0,384.42 L456.0,384.45 L459.0,384.49 L462.0,384.52 L465.0,384.55 L468.0,384.58 L471.0,384.62 L474.0,384.65 L477.0,384.69 L480.0,384.72 L483.0,384.76 L486.0,384.79 L489.0,384.83 L492.0,384.86 L495.0,384.89 L498.0,384.93 L501.0,384.96 L504.0,384.99 L507.0,385.03 L510.0,385.06 L513.0,385.08 L516.0,385.11 L519.0,385.14 L522.0,385.16 L525.0,385.19 L528.0,385.21 L531.0,385.23 L534.0,385.25 L537.0,385.26 L540.0,385.27 L543.0,385.28 L546.0,385.29 L549.0,385.30 L552.0,385.30 L555.0,385.30 L558.0,385.30 L561.0,385.29 L564.0,385.28 L567.0,385.27 L570.0,385.26 L573.0,385.24 L576.0,385.22 L579.0,385.20 L582.0,385.18 L585.0,385.15 L588.0,385.13 L591.0,385.10 L594.0,385.07 L597.0,385.04 L600.0,385.01 L603.0,384.98 L606.0,384.95 L609.0,384.91 L612.0,384.88 L615.0,384.85 L618.0,384.81 L621.0,384.78 L624.0,384.74 L627.0,384.71 L630.0,384.67 L633.0,384.64 L636.0,384.60 L639.0,384.57 L642.0,384.53 L645.0,384.50 L648.0,384.47 L651.0,384.44 L654.0,384.41 L657.0,384.38 L660.0,384.36 L663.0,384.33 L666.0,384.31 L669.0,384.29 L672.0,384.27 L675.0,384.25 L678.0,384.24 L681.0,384.22 L684.0,384.21 L687.0,384.21 L690.0,384.20 L693.0,384.20 L696.0,384.20 L699.0,384.20 L702.0,384.21 L705.0,384.22 L708.0,384.23 L711.0,384.25 L714.0,384.26 L717.0,384.28 L720.0,384.31 L723.0,384.33 L726.0,384.35 L729.0,384.38 L732.0,384.41 L735.0,384.44 L738.0,384.48 L741.0,384.51 L744.0,384.55 L747.0,384.58 L750.0,384.62 L753.0,384.66 L756.0,384.70 L759.0,384.74 L762.0,384.79 L765.0,384.83 L768.0,384.87 L771.0,384.92 L774.0,384.96 L777.0,385.01 L780.0,385.05 L783.0,385.10 L786.0,385.14 L789.0,385.19 L792.0,385.24 L795.0,385.28 L798.0,385.33 L801.0,385.37 L804.0,385.42 L807.0,385.46 L810.0,385.50 L813.0,385.54 L816.0,385.59 L819.0,385.63 L822.0,385.66 L825.0,385.70 L828.0,385.74 L831.0,385.77 L834.0,385.81 L837.0,385.84 L840.0,385.87 L843.0,385.90 L846.0,385.93 L849.0,385.95 L852.0,385.98 L855.0,386.00 L858.0,386.02 L861.0,386.04 L864.0,386.06 L867.0,386.08 L870.0,386.10 L873.0,386.11 L876.0,386.13 L879.0,386.15 L882.0,386.17 L885.0,386.19 L888.0,386.21 L891.0,386.23 L894.0,386.25 L897.0,386.27 L900.0,386.29 L903.0,386.31 L906.0,386.33 L909.0,386.35 L912.0,386.36 L915.0,386.38 L918.0,386.40 L921.0,386.42 L924.0,386.43 L927.0,386.45 L930.0,386.47 L933.0,386.48 L936.0,386.50 L939.0,386.51 L942.0,386.53 L945.0,386.54 L948.0,386.55 L951.0,386.57 L954.0,386.58 L957.0,386.59 L960.0,386.60 L963.0,386.62 L966.0,386.63 L969.0,386.64 L972.0,386.64 L975.0,386.65 L978.0,386.66 L981.0,386.67 L984.0,386.67 L987.0,386.68 L990.0,386.69 L993.0,386.69 L996.0,386.69 L999.0,386.70 L1002.0,386.70 L1005.0,386.70 L1008.0,386.70 L1011.0,386.70 L1011.0,506.0 L96.0,506.0 Z" fill="#fff400"/>
<path d="M96.0,414.70 L99.0,414.70 L102.0,414.70 L105.0,414.70 L108.0,414.70 L111.0,414.70 L114.0,414.69 L117.0,414.69 L120.0,414.69 L123.0,414.69 L126.0,414.68 L129.0,414.68 L132.0,414.67 L135.0,414.67 L138.0,414.67 L141.0,414.66 L144.0,414.65 L147.0,414.65 L150.0,414.64 L153.0,414.64 L156.0,414.63 L159.0,414.62 L162.0,414.61 L165.0,414.61 L168.0,414.60 L171.0,414.59 L174.0,414.58 L177.0,414.57 L180.0,414.56 L183.0,414.56 L186.0,414.55 L189.0,414.54 L192.0,414.53 L195.0,414.52 L198.0,414.51 L201.0,414.50 L204.0,414.48 L207.0,414.47 L210.0,414.46 L213.0,414.45 L216.0,414.44 L219.0,414.43 L222.0,414.42 L225.0,414.40 L228.0,414.39 L231.0,414.38 L234.0,414.37 L237.0,414.36 L240.0,414.34 L243.0,414.33 L246.0,414.32 L249.0,414.30 L252.0,414.29 L255.0,414.28 L258.0,414.26 L261.0,414.24 L264.0,414.22 L267.0,414.19 L270.0,414.17 L273.0,414.14 L276.0,414.11 L279.0,414.09 L282.0,414.05 L285.0,414.02 L288.0,413.99 L291.0,413.95 L294.0,413.92 L297.0,413.88 L300.0,413.84 L303.0,413.80 L306.0,413.76 L309.0,413.72 L312.0,413.67 L315.0,413.63 L318.0,413.59 L321.0,413.54 L324.0,413.50 L327.0,413.45 L330.0,413.40 L333.0,413.36 L336.0,413.31 L339.0,413.26 L342.0,413.22 L345.0,413.17 L348.0,413.12 L351.0,413.07 L354.0,413.02 L357.0,412.98 L360.0,412.93 L363.0,412.88 L366.0,412.84 L369.0,412.79 L372.0,412.74 L375.0,412.70 L378.0,412.65 L381.0,412.61 L384.0,412.56 L387.0,412.52 L390.0,412.48 L393.0,412.44 L396.0,412.40 L399.0,412.36 L402.0,412.32 L405.0,412.28 L408.0,412.25 L411.0,412.21 L414.0,412.18 L417.0,412.14 L420.0,412.11 L423.0,412.07 L426.0,412.03 L429.0,412.00 L432.0,411.96 L435.0,411.92 L438.0,411.88 L441.0,411.84 L444.0,411.80 L447.0,411.76 L450.0,411.72 L453.0,411.68 L456.0,411.64 L459.0,411.60 L462.0,411.56 L465.0,411.52 L468.0,411.48 L471.0,411.45 L474.0,411.41 L477.0,411.37 L480.0,411.33 L483.0,411.30 L486.0,411.26 L489.0,411.23 L492.0,411.19 L495.0,411.16 L498.0,411.13 L501.0,411.10 L504.0,411.07 L507.0,411.04 L510.0,411.01 L513.0,410.98 L516.0,410.96 L519.0,410.94 L522.0,410.91 L525.0,410.89 L528.0,410.88 L531.0,410.86 L534.0,410.84 L537.0,410.83 L540.0,410.82 L543.0,410.81 L546.0,410.81 L549.0,410.80 L552.0,410.80 L555.0,410.80 L558.0,410.80 L561.0,410.81 L564.0,410.82 L567.0,410.82 L570.0,410.84 L573.0,410.85 L576.0,410.86 L579.0,410.88 L582.0,410.90 L585.0,410.92 L588.0,410.94 L591.0,410.97 L594.0,410.99 L597.0,411.02 L600.0,411.05 L603.0,411.08 L606.0,411.11 L609.0,411.14 L612.0,411.17 L615.0,411.21 L618.0,411.24 L621.0,411.28 L624.0,411.31 L627.0,411.35 L630.0,411.39 L633.0,411.42 L636.0,411.46 L639.0,411.50 L642.0,411.54 L645.0,411.58 L648.0,411.62 L651.0,411.66 L654.0,411.70 L657.0,411.74 L660.0,411.78 L663.0,411.82 L666.0,411.86 L669.0,411.90 L672.0,411.94 L675.0,411.98 L678.0,412.02 L681.0,412.05 L684.0,412.09 L687.0,412.13 L690.0,412.16 L693.0,412.19 L696.0,412.23 L699.0,412.26 L702.0,412.30 L705.0,412.34 L708.0,412.38 L711.0,412.42 L714.0,412.46 L717.0,412.50 L720.0,412.54 L723.0,412.59 L726.0,412.63 L729.0,412.68 L732.0,412.72 L735.0,412.77 L738.0,412.81 L741.0,412.86 L744.0,412.91 L747.0,412.95 L750.0,413.00 L753.0,413.05 L756.0,413.10 L759.0,413.15 L762.0,413.19 L765.0,413.24 L768.0,413.29 L771.0,413.34 L774.0,413.38 L777.0,413.43 L780.0,413.47 L783.0,413.52 L786.0,413.57 L789.0,413.61 L792.0,413.65 L795.0,413.70 L798.0,413.74 L801.0,413.78 L804.0,413.82 L807.0,413.86 L810.0,413.90 L813.0,413.93 L816.0,413.97 L819.0,414.01 L822.0,414.04 L825.0,414.07 L828.0,414.10 L831.0,414.13 L834.0,414.16 L837.0,414.18 L840.0,414.21 L843.0,414.23 L846.0,414.25 L849.0,414.27 L852.0,414.28 L855.0,414.30 L858.0,414.31 L861.0,414.32 L864.0,414.34 L867.0,414.35 L870.0,414.36 L873.0,414.37 L876.0,414.39 L879.0,414.40 L882.0,414.41 L885.0,414.42 L888.0,414.43 L891.0,414.45 L894.0,414.46 L897.0,414.47 L900.0,414.48 L903.0,414.49 L906.0,414.50 L909.0,414.51 L912.0,414.52 L915.0,414.53 L918.0,414.54 L921.0,414.55 L924.0,414.56 L927.0,414.57 L930.0,414.58 L933.0,414.59 L936.0,414.60 L939.0,414.60 L942.0,414.61 L945.0,414.62 L948.0,414.63 L951.0,414.63 L954.0,414.64 L957.0,414.65 L960.0,414.65 L963.0,414.66 L966.0,414.66 L969.0,414.67 L972.0,414.67 L975.0,414.68 L978.0,414.68 L981.0,414.68 L984.0,414.69 L987.0,414.69 L990.0,414.69 L993.0,414.70 L996.0,414.70 L999.0,414.70 L1002.0,414.70 L1005.0,414.70 L1008.0,414.70 L1011.0,414.70 L1011.0,506.0 L96.0,506.0 Z" fill="#ffb800"/>
<path d="M96.0,442.50 L99.0,442.50 L102.0,442.50 L105.0,442.50 L108.0,442.50 L111.0,442.50 L114.0,442.50 L117.0,442.50 L120.0,442.50 L123.0,442.50 L126.0,442.50 L129.0,442.50 L132.0,442.49 L135.0,442.49 L138.0,442.49 L141.0,442.49 L144.0,442.49 L147.0,442.49 L150.0,442.49 L153.0,442.49 L156.0,442.48 L159.0,442.48 L162.0,442.48 L165.0,442.48 L168.0,442.48 L171.0,442.48 L174.0,442.47 L177.0,442.47 L180.0,442.47 L183.0,442.47 L186.0,442.47 L189.0,442.46 L192.0,442.46 L195.0,442.46 L198.0,442.46 L201.0,442.45 L204.0,442.45 L207.0,442.45 L210.0,442.44 L213.0,442.44 L216.0,442.44 L219.0,442.44 L222.0,442.43 L225.0,442.43 L228.0,442.43 L231.0,442.42 L234.0,442.42 L237.0,442.42 L240.0,442.41 L243.0,442.41 L246.0,442.40 L249.0,442.40 L252.0,442.40 L255.0,442.39 L258.0,442.38 L261.0,442.38 L264.0,442.37 L267.0,442.36 L270.0,442.34 L273.0,442.33 L276.0,442.31 L279.0,442.30 L282.0,442.28 L285.0,442.26 L288.0,442.24 L291.0,442.22 L294.0,442.20 L297.0,442.17 L300.0,442.15 L303.0,442.12 L306.0,442.10 L309.0,442.07 L312.0,442.04 L315.0,442.01 L318.0,441.98 L321.0,441.95 L324.0,441.91 L327.0,441.88 L330.0,441.84 L333.0,441.81 L336.0,441.77 L339.0,441.73 L342.0,441.69 L345.0,441.65 L348.0,441.61 L351.0,441.57 L354.0,441.53 L357.0,441.49 L360.0,441.45 L363.0,441.40 L366.0,441.36 L369.0,441.31 L372.0,441.27 L375.0,441.22 L378.0,441.18 L381.0,441.13 L384.0,441.08 L387.0,441.03 L390.0,440.98 L393.0,440.93 L396.0,440.86 L399.0,440.79 L402.0,440.71 L405.0,440.63 L408.0,440.54 L411.0,440.44 L414.0,440.34 L417.0,440.23 L420.0,440.12 L423.0,440.01 L426.0,439.89 L429.0,439.77 L432.0,439.65 L435.0,439.52 L438.0,439.40 L441.0,439.27 L444.0,439.14 L447.0,439.02 L450.0,438.89 L453.0,438.76 L456.0,438.64 L459.0,438.52 L462.0,438.40 L465.0,438.28 L468.0,438.17 L471.0,438.06 L474.0,437.95 L477.0,437.85 L480.0,437.76 L483.0,437.67 L486.0,437.58 L489.0,437.48 L492.0,437.39 L495.0,437.29 L498.0,437.19 L501.0,437.08 L504.0,436.98 L507.0,436.88 L510.0,436.78 L513.0,436.68 L516.0,436.59 L519.0,436.49 L522.0,436.41 L525.0,436.32 L528.0,436.24 L531.0,436.17 L534.0,436.11 L537.0,436.05 L540.0,436.00 L543.0,435.96 L546.0,435.93 L549.0,435.91 L552.0,435.90 L555.0,435.90 L558.0,435.92 L561.0,435.94 L564.0,435.98 L567.0,436.02 L570.0,436.07 L573.0,436.13 L576.0,436.20 L579.0,436.28 L582.0,436.36 L585.0,436.44 L588.0,436.53 L591.0,436.63 L594.0,436.73 L597.0,436.82 L600.0,436.93 L603.0,437.03 L606.0,437.13 L609.0,437.23 L612.0,437.34 L615.0,437.44 L618.0,437.53 L621.0,437.63 L624.0,437.72 L627.0,437.81 L630.0,437.91 L633.0,438.01 L636.0,438.12 L639.0,438.23 L642.0,438.34 L645.0,438.46 L648.0,438.58 L651.0,438.71 L654.0,438.83 L657.0,438.96 L660.0,439.08 L663.0,439.21 L666.0,439.34 L669.0,439.46 L672.0,439.59 L675.0,439.71 L678.0,439.83 L681.0,439.95 L684.0,440.07 L687.0,440.18 L690.0,440.29 L693.0,440.39 L696.0,440.49 L699.0,440.59 L702.0,440.67 L705.0,440.76 L708.0,440.83 L711.0,440.90 L714.0,440.96 L717.0,441.01 L720.0,441.06 L723.0,441.11 L726.0,441.15 L729.0,441.20 L732.0,441.25 L735.0,441.29 L738.0,441.34 L741.0,441.38 L744.0,441.43 L747.0,441.47 L750.0,441.51 L753.0,441.55 L756.0,441.60 L759.0,441.64 L762.0,441.68 L765.0,441.71 L768.0,441.75 L771.0,441.79 L774.0,441.83 L777.0,441.86 L780.0,441.90 L783.0,441.93 L786.0,441.96 L789.0,441.99 L792.0,442.02 L795.0,442.05 L798.0,442.08 L801.0,442.11 L804.0,442.14 L807.0,442.16 L810.0,442.19 L813.0,442.21 L816.0,442.23 L819.0,442.25 L822.0,442.27 L825.0,442.29 L828.0,442.31 L831.0,442.32 L834.0,442.34 L837.0,442.35 L840.0,442.36 L843.0,442.37 L846.0,442.38 L849.0,442.39 L852.0,442.39 L855.0,442.40 L858.0,442.40 L861.0,442.41 L864.0,442.41 L867.0,442.41 L870.0,442.42 L873.0,442.42 L876.0,442.42 L879.0,442.43 L882.0,442.43 L885.0,442.43 L888.0,442.44 L891.0,442.44 L894.0,442.44 L897.0,442.45 L900.0,442.45 L903.0,442.45 L906.0,442.45 L909.0,442.46 L912.0,442.46 L915.0,442.46 L918.0,442.46 L921.0,442.47 L924.0,442.47 L927.0,442.47 L930.0,442.47 L933.0,442.47 L936.0,442.48 L939.0,442.48 L942.0,442.48 L945.0,442.48 L948.0,442.48 L951.0,442.49 L954.0,442.49 L957.0,442.49 L960.0,442.49 L963.0,442.49 L966.0,442.49 L969.0,442.49 L972.0,442.49 L975.0,442.50 L978.0,442.50 L981.0,442.50 L984.0,442.50 L987.0,442.50 L990.0,442.50 L993.0,442.50 L996.0,442.50 L999.0,442.50 L1002.0,442.50 L1005.0,442.50 L1008.0,442.50 L1011.0,442.50 L1011.0,506.0 L96.0,506.0 Z" fill="#ff8000"/>
<path d="M96.0,470.90 L99.0,470.90 L102.0,470.90 L105.0,470.90 L108.0,470.90 L111.0,470.91 L114.0,470.91 L117.0,470.91 L120.0,470.92 L123.0,470.92 L126.0,470.93 L129.0,470.93 L132.0,470.94 L135.0,470.94 L138.0,470.95 L141.0,470.96 L144.0,470.97 L147.0,470.97 L150.0,470.98 L153.0,470.99 L156.0,471.00 L159.0,471.01 L162.0,471.01 L165.0,471.02 L168.0,471.03 L171.0,471.04 L174.0,471.05 L177.0,471.06 L180.0,471.07 L183.0,471.08 L186.0,471.09 L189.0,471.09 L192.0,471.10 L195.0,471.11 L198.0,471.12 L201.0,471.13 L204.0,471.13 L207.0,471.14 L210.0,471.15 L213.0,471.16 L216.0,471.16 L219.0,471.17 L222.0,471.17 L225.0,471.18 L228.0,471.18 L231.0,471.19 L234.0,471.19 L237.0,471.19 L240.0,471.20 L243.0,471.20 L246.0,471.20 L249.0,471.20 L252.0,471.20 L255.0,471.20 L258.0,471.20 L261.0,471.19 L264.0,471.19 L267.0,471.18 L270.0,471.17 L273.0,471.16 L276.0,471.15 L279.0,471.14 L282.0,471.13 L285.0,471.11 L288.0,471.10 L291.0,471.08 L294.0,471.06 L297.0,471.04 L300.0,471.02 L303.0,471.00 L306.0,470.98 L309.0,470.95 L312.0,470.93 L315.0,470.90 L318.0,470.87 L321.0,470.85 L324.0,470.82 L327.0,470.79 L330.0,470.75 L333.0,470.72 L336.0,470.69 L339.0,470.65 L342.0,470.61 L345.0,470.58 L348.0,470.54 L351.0,470.50 L354.0,470.46 L357.0,470.41 L360.0,470.37 L363.0,470.33 L366.0,470.28 L369.0,470.23 L372.0,470.19 L375.0,470.14 L378.0,470.09 L381.0,470.04 L384.0,469.99 L387.0,469.94 L390.0,469.88 L393.0,469.81 L396.0,469.71 L399.0,469.60 L402.0,469.47 L405.0,469.31 L408.0,469.15 L411.0,468.97 L414.0,468.77 L417.0,468.57 L420.0,468.35 L423.0,468.13 L426.0,467.89 L429.0,467.66 L432.0,467.41 L435.0,467.17 L438.0,466.92 L441.0,466.68 L444.0,466.43 L447.0,466.19 L450.0,465.95 L453.0,465.72 L456.0,465.49 L459.0,465.28 L462.0,465.06 L465.0,464.82 L468.0,464.58 L471.0,464.32 L474.0,464.06 L477.0,463.80 L480.0,463.54 L483.0,463.29 L486.0,463.04 L489.0,462.80 L492.0,462.57 L495.0,462.36 L498.0,462.17 L501.0,461.99 L504.0,461.84 L507.0,461.72 L510.0,461.59 L513.0,461.46 L516.0,461.34 L519.0,461.22 L522.0,461.10 L525.0,460.99 L528.0,460.88 L531.0,460.78 L534.0,460.69 L537.0,460.61 L540.0,460.54 L543.0,460.49 L546.0,460.44 L549.0,460.41 L552.0,460.40 L555.0,460.40 L558.0,460.42 L561.0,460.46 L564.0,460.51 L567.0,460.57 L570.0,460.64 L573.0,460.73 L576.0,460.82 L579.0,460.93 L582.0,461.04 L585.0,461.15 L588.0,461.27 L591.0,461.40 L594.0,461.52 L597.0,461.65 L600.0,461.78 L603.0,461.92 L606.0,462.08 L609.0,462.26 L612.0,462.47 L615.0,462.69 L618.0,462.92 L621.0,463.17 L624.0,463.42 L627.0,463.68 L630.0,463.94 L633.0,464.20 L636.0,464.45 L639.0,464.70 L642.0,464.94 L645.0,465.17 L648.0,465.39 L651.0,465.61 L654.0,465.84 L657.0,466.07 L660.0,466.31 L663.0,466.56 L666.0,466.80 L669.0,467.05 L672.0,467.30 L675.0,467.54 L678.0,467.78 L681.0,468.01 L684.0,468.24 L687.0,468.46 L690.0,468.67 L693.0,468.87 L696.0,469.06 L699.0,469.24 L702.0,469.39 L705.0,469.54 L708.0,469.66 L711.0,469.76 L714.0,469.85 L717.0,469.91 L720.0,469.96 L723.0,470.01 L726.0,470.07 L729.0,470.12 L732.0,470.16 L735.0,470.21 L738.0,470.26 L741.0,470.30 L744.0,470.35 L747.0,470.39 L750.0,470.44 L753.0,470.48 L756.0,470.52 L759.0,470.56 L762.0,470.60 L765.0,470.63 L768.0,470.67 L771.0,470.70 L774.0,470.74 L777.0,470.77 L780.0,470.80 L783.0,470.83 L786.0,470.86 L789.0,470.89 L792.0,470.92 L795.0,470.94 L798.0,470.97 L801.0,470.99 L804.0,471.01 L807.0,471.03 L810.0,471.05 L813.0,471.07 L816.0,471.09 L819.0,471.10 L822.0,471.12 L825.0,471.13 L828.0,471.15 L831.0,471.16 L834.0,471.17 L837.0,471.18 L840.0,471.18 L843.0,471.19 L846.0,471.19 L849.0,471.20 L852.0,471.20 L855.0,471.20 L858.0,471.20 L861.0,471.20 L864.0,471.20 L867.0,471.20 L870.0,471.19 L873.0,471.19 L876.0,471.19 L879.0,471.18 L882.0,471.18 L885.0,471.17 L888.0,471.16 L891.0,471.16 L894.0,471.15 L897.0,471.15 L900.0,471.14 L903.0,471.13 L906.0,471.12 L909.0,471.11 L912.0,471.11 L915.0,471.10 L918.0,471.09 L921.0,471.08 L924.0,471.07 L927.0,471.06 L930.0,471.05 L933.0,471.05 L936.0,471.04 L939.0,471.03 L942.0,471.02 L945.0,471.01 L948.0,471.00 L951.0,470.99 L954.0,470.99 L957.0,470.98 L960.0,470.97 L963.0,470.96 L966.0,470.95 L969.0,470.95 L972.0,470.94 L975.0,470.94 L978.0,470.93 L981.0,470.92 L984.0,470.92 L987.0,470.91 L990.0,470.91 L993.0,470.91 L996.0,470.90 L999.0,470.90 L1002.0,470.90 L1005.0,470.90 L1008.0,470.90 L1011.0,470.90 L1011.0,506.0 L96.0,506.0 Z" fill="#ff4c00"/>
<path d="M96.0,499.30 L99.0,499.30 L102.0,499.30 L105.0,499.31 L108.0,499.32 L111.0,499.33 L114.0,499.34 L117.0,499.35 L120.0,499.37 L123.0,499.39 L126.0,499.41 L129.0,499.43 L132.0,499.45 L135.0,499.48 L138.0,499.50 L141.0,499.53 L144.0,499.55 L147.0,499.58 L150.0,499.61 L153.0,499.63 L156.0,499.66 L159.0,499.69 L162.0,499.71 L165.0,499.74 L168.0,499.76 L171.0,499.78 L174.0,499.81 L177.0,499.83 L180.0,499.85 L183.0,499.88 L186.0,499.90 L189.0,499.92 L192.0,499.95 L195.0,499.97 L198.0,500.00 L201.0,500.02 L204.0,500.05 L207.0,500.07 L210.0,500.10 L213.0,500.12 L216.0,500.15 L219.0,500.17 L222.0,500.20 L225.0,500.23 L228.0,500.25 L231.0,500.28 L234.0,500.31 L237.0,500.33 L240.0,500.36 L243.0,500.38 L246.0,500.41 L249.0,500.44 L252.0,500.46 L255.0,500.49 L258.0,500.51 L261.0,500.54 L264.0,500.57 L267.0,500.59 L270.0,500.62 L273.0,500.64 L276.0,500.66 L279.0,500.69 L282.0,500.71 L285.0,500.73 L288.0,500.75 L291.0,500.77 L294.0,500.78 L297.0,500.80 L300.0,500.82 L303.0,500.84 L306.0,500.86 L309.0,500.88 L312.0,500.90 L315.0,500.92 L318.0,500.94 L321.0,500.96 L324.0,500.98 L327.0,501.00 L330.0,501.03 L333.0,501.05 L336.0,501.08 L339.0,501.11 L342.0,501.14 L345.0,501.17 L348.0,501.20 L351.0,501.24 L354.0,501.28 L357.0,501.31 L360.0,501.36 L363.0,501.40 L366.0,501.46 L369.0,501.56 L372.0,501.68 L375.0,501.82 L378.0,501.96 L381.0,502.10 L384.0,502.24 L387.0,502.35 L390.0,502.44 L393.0,502.49 L396.0,502.50 L399.0,502.49 L402.0,502.47 L405.0,502.44 L408.0,502.39 L411.0,502.34 L414.0,502.14 L417.0,501.36 L420.0,500.50 L423.0,499.82 L426.0,499.17 L429.0,498.52 L432.0,497.87 L435.0,497.20 L438.0,496.51 L441.0,495.80 L444.0,495.08 L447.0,494.36 L450.0,493.64 L453.0,492.95 L456.0,492.28 L459.0,491.65 L462.0,491.00 L465.0,490.35 L468.0,489.72 L471.0,489.12 L474.0,488.57 L477.0,488.09 L480.0,487.70 L483.0,487.38 L486.0,487.08 L489.0,486.81 L492.0,486.57 L495.0,486.34 L498.0,486.13 L501.0,485.94 L504.0,485.76 L507.0,485.58 L510.0,485.40 L513.0,485.22 L516.0,485.04 L519.0,484.86 L522.0,484.68 L525.0,484.51 L528.0,484.35 L531.0,484.20 L534.0,484.06 L537.0,483.94 L540.0,483.83 L543.0,483.74 L546.0,483.67 L549.0,483.62 L552.0,483.60 L555.0,483.61 L558.0,483.64 L561.0,483.69 L564.0,483.77 L567.0,483.87 L570.0,483.99 L573.0,484.12 L576.0,484.26 L579.0,484.42 L582.0,484.59 L585.0,484.76 L588.0,484.94 L591.0,485.13 L594.0,485.31 L597.0,485.49 L600.0,485.67 L603.0,485.85 L606.0,486.04 L609.0,486.24 L612.0,486.46 L615.0,486.69 L618.0,486.95 L621.0,487.23 L624.0,487.54 L627.0,487.89 L630.0,488.33 L633.0,488.84 L636.0,489.42 L639.0,490.04 L642.0,490.69 L645.0,491.34 L648.0,491.97 L651.0,492.62 L654.0,493.30 L657.0,494.01 L660.0,494.73 L663.0,495.45 L666.0,496.17 L669.0,496.87 L672.0,497.54 L675.0,498.20 L678.0,498.85 L681.0,499.50 L684.0,500.17 L687.0,500.91 L690.0,501.82 L693.0,502.30 L696.0,502.37 L699.0,502.42 L702.0,502.46 L705.0,502.48 L708.0,502.50 L711.0,502.50 L714.0,502.47 L717.0,502.40 L720.0,502.30 L723.0,502.17 L726.0,502.03 L729.0,501.89 L732.0,501.75 L735.0,501.62 L738.0,501.51 L741.0,501.43 L744.0,501.38 L747.0,501.33 L750.0,501.29 L753.0,501.26 L756.0,501.22 L759.0,501.19 L762.0,501.15 L765.0,501.12 L768.0,501.09 L771.0,501.07 L774.0,501.04 L777.0,501.02 L780.0,500.99 L783.0,500.97 L786.0,500.95 L789.0,500.93 L792.0,500.91 L795.0,500.89 L798.0,500.87 L801.0,500.85 L804.0,500.83 L807.0,500.81 L810.0,500.79 L813.0,500.78 L816.0,500.76 L819.0,500.74 L822.0,500.72 L825.0,500.70 L828.0,500.67 L831.0,500.65 L834.0,500.63 L837.0,500.60 L840.0,500.58 L843.0,500.55 L846.0,500.53 L849.0,500.50 L852.0,500.48 L855.0,500.45 L858.0,500.42 L861.0,500.40 L864.0,500.37 L867.0,500.34 L870.0,500.32 L873.0,500.29 L876.0,500.27 L879.0,500.24 L882.0,500.21 L885.0,500.19 L888.0,500.16 L891.0,500.14 L894.0,500.11 L897.0,500.08 L900.0,500.06 L903.0,500.03 L906.0,500.01 L909.0,499.98 L912.0,499.96 L915.0,499.94 L918.0,499.91 L921.0,499.89 L924.0,499.86 L927.0,499.84 L930.0,499.82 L933.0,499.80 L936.0,499.77 L939.0,499.75 L942.0,499.72 L945.0,499.70 L948.0,499.67 L951.0,499.65 L954.0,499.62 L957.0,499.59 L960.0,499.57 L963.0,499.54 L966.0,499.51 L969.0,499.49 L972.0,499.46 L975.0,499.44 L978.0,499.42 L981.0,499.40 L984.0,499.38 L987.0,499.36 L990.0,499.35 L993.0,499.33 L996.0,499.32 L999.0,499.31 L1002.0,499.30 L1005.0,499.30 L1008.0,499.30 L1011.0,499.30 L1011.0,506.0 L96.0,506.0 Z" fill="#ff2400"/>
</g>
<path d="M98.0,502.35 H1007.45" stroke="#b9a9a4" stroke-width="0.8" opacity="0.8"/>
<rect x="96.80" y="50.73" width="911.90" height="2.55" fill="#0c0c0c"/>
<rect x="96.80" y="502.65" width="911.90" height="2.70" fill="#0c0c0c"/>
<rect x="96.80" y="50.73" width="2.40" height="454.62" fill="#0c0c0c"/>
<rect x="1006.20" y="50.73" width="2.50" height="454.62" fill="#0c0c0c"/>
<path d="M126.43,52.0 V62.00 M126.43,504.0 V494.00 M173.79,52.0 V71.00 M173.79,504.0 V485.00 M221.16,52.0 V62.00 M221.16,504.0 V494.00 M268.53,52.0 V71.00 M268.53,504.0 V485.00 M315.89,52.0 V62.00 M315.89,504.0 V494.00 M363.26,52.0 V71.00 M363.26,504.0 V485.00 M410.63,52.0 V62.00 M410.63,504.0 V494.00 M458.00,52.0 V71.00 M458.00,504.0 V485.00 M505.36,52.0 V62.00 M505.36,504.0 V494.00 M552.73,52.0 V71.00 M552.73,504.0 V485.00 M600.10,52.0 V62.00 M600.10,504.0 V494.00 M647.46,52.0 V71.00 M647.46,504.0 V485.00 M694.83,52.0 V62.00 M694.83,504.0 V494.00 M742.20,52.0 V71.00 M742.20,504.0 V485.00 M789.57,52.0 V62.00 M789.57,504.0 V494.00 M836.93,52.0 V71.00 M836.93,504.0 V485.00 M884.30,52.0 V62.00 M884.30,504.0 V494.00 M931.67,52.0 V71.00 M931.67,504.0 V485.00 M979.03,52.0 V62.00 M979.03,504.0 V494.00 M98.0,481.40 h8.6 M1007.45,481.40 h-8.6 M98.0,458.80 h8.6 M1007.45,458.80 h-8.6 M98.0,436.20 h8.6 M1007.45,436.20 h-8.6 M98.0,413.60 h8.6 M1007.45,413.60 h-8.6 M98.0,391.00 h16 M1007.45,391.00 h-12.4 M98.0,368.40 h8.6 M1007.45,368.40 h-8.6 M98.0,345.80 h8.6 M1007.45,345.80 h-8.6 M98.0,323.20 h8.6 M1007.45,323.20 h-8.6 M98.0,300.60 h8.6 M1007.45,300.60 h-8.6 M98.0,278.00 h16 M1007.45,278.00 h-12.4 M98.0,255.40 h8.6 M1007.45,255.40 h-8.6 M98.0,232.80 h8.6 M1007.45,232.80 h-8.6 M98.0,210.20 h8.6 M1007.45,210.20 h-8.6 M98.0,187.60 h8.6 M1007.45,187.60 h-8.6 M98.0,165.00 h16 M1007.45,165.00 h-12.4 M98.0,142.40 h8.6 M1007.45,142.40 h-8.6 M98.0,119.80 h8.6 M1007.45,119.80 h-8.6 M98.0,97.20 h8.6 M1007.45,97.20 h-8.6 M98.0,74.60 h8.6 M1007.45,74.60 h-8.6" stroke="#0c0c0c" stroke-width="2.3" fill="none"/>
<text transform="translate(158.49,535.95) scale(0.2104,0.2507)" font-family='"Liberation Sans", sans-serif' font-weight="normal" font-size="100" fill="#1c1c1c"  stroke="#1c1c1c" stroke-width="1.52" stroke-linejoin="round">-40</text>
<text transform="translate(253.23,535.95) scale(0.2104,0.2507)" font-family='"Liberation Sans", sans-serif' font-weight="normal" font-size="100" fill="#1c1c1c"  stroke="#1c1c1c" stroke-width="1.52" stroke-linejoin="round">-30</text>
<text transform="translate(347.96,535.95) scale(0.2104,0.2507)" font-family='"Liberation Sans", sans-serif' font-weight="normal" font-size="100" fill="#1c1c1c"  stroke="#1c1c1c" stroke-width="1.52" stroke-linejoin="round">-20</text>
<text transform="translate(442.70,535.95) scale(0.2104,0.2507)" font-family='"Liberation Sans", sans-serif' font-weight="normal" font-size="100" fill="#1c1c1c"  stroke="#1c1c1c" stroke-width="1.52" stroke-linejoin="round">-10</text>
<text transform="translate(546.73,535.95) scale(0.2126,0.2507)" font-family='"Liberation Sans", sans-serif' font-weight="normal" font-size="100" fill="#1c1c1c"  stroke="#1c1c1c" stroke-width="1.52" stroke-linejoin="round">0</text>
<text transform="translate(635.76,535.95) scale(0.2090,0.2507)" font-family='"Liberation Sans", sans-serif' font-weight="normal" font-size="100" fill="#1c1c1c"  stroke="#1c1c1c" stroke-width="1.53" stroke-linejoin="round">10</text>
<text transform="translate(730.50,535.95) scale(0.2090,0.2507)" font-family='"Liberation Sans", sans-serif' font-weight="normal" font-size="100" fill="#1c1c1c"  stroke="#1c1c1c" stroke-width="1.53" stroke-linejoin="round">20</text>
<text transform="translate(825.23,535.95) scale(0.2090,0.2507)" font-family='"Liberation Sans", sans-serif' font-weight="normal" font-size="100" fill="#1c1c1c"  stroke="#1c1c1c" stroke-width="1.53" stroke-linejoin="round">30</text>
<text transform="translate(919.97,535.95) scale(0.2090,0.2507)" font-family='"Liberation Sans", sans-serif' font-weight="normal" font-size="100" fill="#1c1c1c"  stroke="#1c1c1c" stroke-width="1.53" stroke-linejoin="round">40</text>
<text transform="translate(70.80,61.65) scale(0.2000,0.2507)" font-family='"Liberation Sans", sans-serif' font-weight="normal" font-size="100" fill="#1c1c1c"  stroke="#1c1c1c" stroke-width="1.56" stroke-linejoin="round">10</text>
<text transform="translate(81.20,174.65) scale(0.2126,0.2507)" font-family='"Liberation Sans", sans-serif' font-weight="normal" font-size="100" fill="#1c1c1c"  stroke="#1c1c1c" stroke-width="1.52" stroke-linejoin="round">0</text>
<text transform="translate(62.80,287.65) scale(0.2090,0.2507)" font-family='"Liberation Sans", sans-serif' font-weight="normal" font-size="100" fill="#1c1c1c"  stroke="#1c1c1c" stroke-width="1.53" stroke-linejoin="round">-10</text>
<text transform="translate(62.80,400.65) scale(0.2090,0.2507)" font-family='"Liberation Sans", sans-serif' font-weight="normal" font-size="100" fill="#1c1c1c"  stroke="#1c1c1c" stroke-width="1.53" stroke-linejoin="round">-20</text>
<text transform="translate(62.80,513.65) scale(0.2090,0.2507)" font-family='"Liberation Sans", sans-serif' font-weight="normal" font-size="100" fill="#1c1c1c"  stroke="#1c1c1c" stroke-width="1.53" stroke-linejoin="round">-30</text>
<text transform="translate(525.00,590.17) scale(0.2616,0.3251)" font-family='"Liberation Sans", sans-serif' font-weight="bold" font-size="100" fill="#111" >x(m)</text>
<text transform="rotate(-90 35.90 278.55) translate(5.15,285.77) scale(0.2993,0.2802)" font-family='"Liberation Sans", sans-serif' font-weight="bold" font-size="100" fill="#111" >z(m)</text>
<rect x="1060.4" y="78.80" width="15.0" height="27.95" fill="#ff2400"/>
<rect x="1060.4" y="106.25" width="15.0" height="27.95" fill="#ff4c00"/>
<rect x="1060.4" y="133.69" width="15.0" height="27.95" fill="#ff8000"/>
<rect x="1060.4" y="161.14" width="15.0" height="27.95" fill="#ffb800"/>
<rect x="1060.4" y="188.58" width="15.0" height="27.95" fill="#fff400"/>
<rect x="1060.4" y="216.03" width="15.0" height="27.95" fill="#b0ff00"/>
<rect x="1060.4" y="243.48" width="15.0" height="27.95" fill="#4cff00"/>
<rect x="1060.4" y="270.92" width="15.0" height="27.95" fill="#00ff14"/>
<rect x="1060.4" y="298.37" width="15.0" height="27.95" fill="#00ff78"/>
<rect x="1060.4" y="325.82" width="15.0" height="27.95" fill="#00ffd8"/>
<rect x="1060.4" y="353.26" width="15.0" height="27.95" fill="#0cc0f4"/>
<rect x="1060.4" y="380.71" width="15.0" height="27.95" fill="#1e64de"/>
<rect x="1060.4" y="408.15" width="15.0" height="27.95" fill="#3300cc"/>
<path d="M1060.4,78.8 V435.6" stroke="#9a9a9a" stroke-width="1"/>
<clipPath id="cc"><rect x="1060" y="45" width="15.8" height="20"/></clipPath>
<g clip-path="url(#cc)"><text transform="translate(1069.10,59.83) scale(0.1865,0.1750)" font-family='"Liberation Serif", serif' font-weight="bold" font-size="100" fill="#222" >c</text></g>
<clipPath id="cb"><rect x="1228.25" y="40" width="926.1500000000001" height="466.65"/></clipPath>
<g clip-path="url(#cb)">
<path d="M1228.2,166.1 L1546.0,166.1 L1643.0,131.3 L1739.6,131.3 L1836.6,166.1 L2154.4,166.1 L2154.4,506.65 L1228.25,506.65 Z" fill="#ff1e00"/>
<path d="M1226.2,226.42 L1229.2,226.48 L1232.2,226.54 L1235.2,226.60 L1238.2,226.67 L1241.2,226.74 L1244.2,226.81 L1247.2,226.88 L1250.2,226.96 L1253.2,227.04 L1256.2,227.12 L1259.2,227.20 L1262.2,227.28 L1265.2,227.37 L1268.2,227.45 L1271.2,227.54 L1274.2,227.63 L1277.2,227.73 L1280.2,227.82 L1283.2,227.92 L1286.2,228.02 L1289.2,228.12 L1292.2,228.23 L1295.2,228.34 L1298.2,228.45 L1301.2,228.56 L1304.2,228.68 L1307.2,228.80 L1310.2,228.93 L1313.2,229.05 L1316.2,229.18 L1319.2,229.32 L1322.2,229.45 L1325.2,229.59 L1328.2,229.72 L1331.2,229.86 L1334.2,230.01 L1337.2,230.16 L1340.2,230.31 L1343.2,230.47 L1346.2,230.64 L1349.2,230.81 L1352.2,230.99 L1355.2,231.17 L1358.2,231.36 L1361.2,231.54 L1364.2,231.73 L1367.2,231.92 L1370.2,232.11 L1373.2,232.29 L1376.2,232.48 L1379.2,232.66 L1382.2,232.83 L1385.2,233.01 L1388.2,233.18 L1391.2,233.34 L1394.2,233.51 L1397.2,233.68 L1400.2,233.84 L1403.2,234.01 L1406.2,234.18 L1409.2,234.35 L1412.2,234.51 L1415.2,234.68 L1418.2,234.84 L1421.2,235.00 L1424.2,235.15 L1427.2,235.30 L1430.2,235.44 L1433.2,235.58 L1436.2,235.72 L1439.2,235.84 L1442.2,235.96 L1445.2,236.07 L1448.2,236.19 L1451.2,236.31 L1454.2,236.43 L1457.2,236.55 L1460.2,236.67 L1463.2,236.78 L1466.2,236.90 L1469.2,237.01 L1472.2,237.11 L1475.2,237.21 L1478.2,237.30 L1481.2,237.38 L1484.2,237.45 L1487.2,237.50 L1490.2,237.55 L1493.2,237.58 L1496.2,237.60 L1499.2,237.60 L1502.2,237.58 L1505.2,237.55 L1508.2,237.51 L1511.2,237.46 L1514.2,237.39 L1517.2,237.32 L1520.2,237.24 L1523.2,237.16 L1526.2,237.07 L1529.2,236.94 L1532.2,236.77 L1535.2,236.57 L1538.2,236.33 L1541.2,236.07 L1544.2,235.78 L1547.2,235.47 L1550.2,235.14 L1553.2,234.80 L1556.2,234.41 L1559.2,233.95 L1562.2,233.44 L1565.2,232.88 L1568.2,232.28 L1571.2,231.64 L1574.2,230.97 L1577.2,230.28 L1580.2,229.57 L1583.2,228.81 L1586.2,227.98 L1589.2,227.10 L1592.2,226.16 L1595.2,225.18 L1598.2,224.16 L1601.2,223.10 L1604.2,222.02 L1607.2,220.91 L1610.2,219.74 L1613.2,218.50 L1616.2,217.20 L1619.2,215.84 L1622.2,214.45 L1625.2,213.03 L1628.2,211.60 L1631.2,210.16 L1634.2,208.72 L1637.2,207.25 L1640.2,205.69 L1643.2,204.08 L1646.2,202.45 L1649.2,200.83 L1652.2,199.26 L1655.2,197.77 L1658.2,196.38 L1661.2,195.13 L1664.2,193.97 L1667.2,192.80 L1670.2,191.67 L1673.2,190.61 L1676.2,189.67 L1679.2,188.91 L1682.2,188.35 L1685.2,188.00 L1688.2,187.72 L1691.2,187.60 L1694.2,187.71 L1697.2,187.98 L1700.2,188.33 L1703.2,188.88 L1706.2,189.65 L1709.2,190.58 L1712.2,191.63 L1715.2,192.77 L1718.2,193.94 L1721.2,195.10 L1724.2,196.34 L1727.2,197.72 L1730.2,199.21 L1733.2,200.78 L1736.2,202.40 L1739.2,204.03 L1742.2,205.64 L1745.2,207.20 L1748.2,208.68 L1751.2,210.11 L1754.2,211.55 L1757.2,212.98 L1760.2,214.40 L1763.2,215.80 L1766.2,217.15 L1769.2,218.46 L1772.2,219.70 L1775.2,220.87 L1778.2,221.98 L1781.2,223.07 L1784.2,224.13 L1787.2,225.15 L1790.2,226.13 L1793.2,227.07 L1796.2,227.95 L1799.2,228.78 L1802.2,229.54 L1805.2,230.26 L1808.2,230.95 L1811.2,231.62 L1814.2,232.26 L1817.2,232.86 L1820.2,233.42 L1823.2,233.94 L1826.2,234.39 L1829.2,234.79 L1832.2,235.13 L1835.2,235.46 L1838.2,235.77 L1841.2,236.06 L1844.2,236.32 L1847.2,236.56 L1850.2,236.77 L1853.2,236.93 L1856.2,237.06 L1859.2,237.15 L1862.2,237.24 L1865.2,237.32 L1868.2,237.39 L1871.2,237.46 L1874.2,237.51 L1877.2,237.55 L1880.2,237.58 L1883.2,237.60 L1886.2,237.60 L1889.2,237.58 L1892.2,237.55 L1895.2,237.51 L1898.2,237.45 L1901.2,237.38 L1904.2,237.30 L1907.2,237.21 L1910.2,237.11 L1913.2,237.01 L1916.2,236.90 L1919.2,236.79 L1922.2,236.67 L1925.2,236.55 L1928.2,236.43 L1931.2,236.31 L1934.2,236.19 L1937.2,236.08 L1940.2,235.96 L1943.2,235.85 L1946.2,235.72 L1949.2,235.59 L1952.2,235.45 L1955.2,235.31 L1958.2,235.16 L1961.2,235.00 L1964.2,234.84 L1967.2,234.68 L1970.2,234.52 L1973.2,234.35 L1976.2,234.19 L1979.2,234.02 L1982.2,233.85 L1985.2,233.68 L1988.2,233.51 L1991.2,233.35 L1994.2,233.18 L1997.2,233.01 L2000.2,232.84 L2003.2,232.66 L2006.2,232.48 L2009.2,232.30 L2012.2,232.11 L2015.2,231.92 L2018.2,231.74 L2021.2,231.55 L2024.2,231.36 L2027.2,231.18 L2030.2,231.00 L2033.2,230.82 L2036.2,230.65 L2039.2,230.48 L2042.2,230.32 L2045.2,230.16 L2048.2,230.01 L2051.2,229.87 L2054.2,229.73 L2057.2,229.59 L2060.2,229.45 L2063.2,229.32 L2066.2,229.19 L2069.2,229.06 L2072.2,228.93 L2075.2,228.81 L2078.2,228.69 L2081.2,228.57 L2084.2,228.45 L2087.2,228.34 L2090.2,228.23 L2093.2,228.12 L2096.2,228.02 L2099.2,227.92 L2102.2,227.82 L2105.2,227.73 L2108.2,227.64 L2111.2,227.55 L2114.2,227.46 L2117.2,227.37 L2120.2,227.28 L2123.2,227.20 L2126.2,227.12 L2129.2,227.04 L2132.2,226.96 L2135.2,226.88 L2138.2,226.81 L2141.2,226.74 L2144.2,226.67 L2147.2,226.61 L2150.2,226.54 L2153.2,226.48 L2156.2,226.42 L2156.2,508.6 L1226.2,508.6 Z" fill="#ff5000"/>
<path d="M1226.2,292.42 L1229.2,292.46 L1232.2,292.50 L1235.2,292.54 L1238.2,292.58 L1241.2,292.62 L1244.2,292.66 L1247.2,292.71 L1250.2,292.75 L1253.2,292.79 L1256.2,292.84 L1259.2,292.88 L1262.2,292.93 L1265.2,292.97 L1268.2,293.02 L1271.2,293.06 L1274.2,293.11 L1277.2,293.16 L1280.2,293.20 L1283.2,293.25 L1286.2,293.30 L1289.2,293.35 L1292.2,293.39 L1295.2,293.44 L1298.2,293.49 L1301.2,293.54 L1304.2,293.59 L1307.2,293.64 L1310.2,293.69 L1313.2,293.74 L1316.2,293.79 L1319.2,293.84 L1322.2,293.90 L1325.2,293.95 L1328.2,294.00 L1331.2,294.05 L1334.2,294.10 L1337.2,294.16 L1340.2,294.21 L1343.2,294.27 L1346.2,294.33 L1349.2,294.39 L1352.2,294.46 L1355.2,294.52 L1358.2,294.59 L1361.2,294.65 L1364.2,294.72 L1367.2,294.79 L1370.2,294.86 L1373.2,294.92 L1376.2,294.99 L1379.2,295.06 L1382.2,295.13 L1385.2,295.20 L1388.2,295.27 L1391.2,295.34 L1394.2,295.41 L1397.2,295.47 L1400.2,295.54 L1403.2,295.60 L1406.2,295.67 L1409.2,295.73 L1412.2,295.79 L1415.2,295.85 L1418.2,295.91 L1421.2,295.97 L1424.2,296.02 L1427.2,296.07 L1430.2,296.12 L1433.2,296.17 L1436.2,296.21 L1439.2,296.25 L1442.2,296.29 L1445.2,296.33 L1448.2,296.36 L1451.2,296.40 L1454.2,296.44 L1457.2,296.48 L1460.2,296.51 L1463.2,296.55 L1466.2,296.59 L1469.2,296.62 L1472.2,296.65 L1475.2,296.68 L1478.2,296.71 L1481.2,296.73 L1484.2,296.75 L1487.2,296.77 L1490.2,296.78 L1493.2,296.79 L1496.2,296.80 L1499.2,296.80 L1502.2,296.79 L1505.2,296.77 L1508.2,296.74 L1511.2,296.70 L1514.2,296.66 L1517.2,296.61 L1520.2,296.55 L1523.2,296.48 L1526.2,296.41 L1529.2,296.34 L1532.2,296.26 L1535.2,296.18 L1538.2,296.10 L1541.2,296.01 L1544.2,295.92 L1547.2,295.84 L1550.2,295.75 L1553.2,295.66 L1556.2,295.57 L1559.2,295.46 L1562.2,295.34 L1565.2,295.22 L1568.2,295.08 L1571.2,294.94 L1574.2,294.80 L1577.2,294.64 L1580.2,294.49 L1583.2,294.32 L1586.2,294.16 L1589.2,293.99 L1592.2,293.82 L1595.2,293.65 L1598.2,293.48 L1601.2,293.32 L1604.2,293.15 L1607.2,292.99 L1610.2,292.82 L1613.2,292.64 L1616.2,292.46 L1619.2,292.27 L1622.2,292.08 L1625.2,291.88 L1628.2,291.69 L1631.2,291.49 L1634.2,291.29 L1637.2,291.09 L1640.2,290.90 L1643.2,290.71 L1646.2,290.52 L1649.2,290.34 L1652.2,290.17 L1655.2,290.01 L1658.2,289.86 L1661.2,289.72 L1664.2,289.58 L1667.2,289.43 L1670.2,289.28 L1673.2,289.13 L1676.2,288.99 L1679.2,288.87 L1682.2,288.76 L1685.2,288.67 L1688.2,288.62 L1691.2,288.60 L1694.2,288.62 L1697.2,288.67 L1700.2,288.75 L1703.2,288.86 L1706.2,288.99 L1709.2,289.13 L1712.2,289.27 L1715.2,289.42 L1718.2,289.57 L1721.2,289.71 L1724.2,289.85 L1727.2,290.01 L1730.2,290.17 L1733.2,290.34 L1736.2,290.52 L1739.2,290.70 L1742.2,290.89 L1745.2,291.09 L1748.2,291.28 L1751.2,291.48 L1754.2,291.68 L1757.2,291.88 L1760.2,292.07 L1763.2,292.27 L1766.2,292.45 L1769.2,292.64 L1772.2,292.81 L1775.2,292.98 L1778.2,293.14 L1781.2,293.31 L1784.2,293.48 L1787.2,293.65 L1790.2,293.82 L1793.2,293.99 L1796.2,294.15 L1799.2,294.32 L1802.2,294.48 L1805.2,294.64 L1808.2,294.79 L1811.2,294.94 L1814.2,295.08 L1817.2,295.21 L1820.2,295.34 L1823.2,295.46 L1826.2,295.56 L1829.2,295.66 L1832.2,295.75 L1835.2,295.83 L1838.2,295.92 L1841.2,296.01 L1844.2,296.09 L1847.2,296.18 L1850.2,296.26 L1853.2,296.34 L1856.2,296.41 L1859.2,296.48 L1862.2,296.55 L1865.2,296.61 L1868.2,296.66 L1871.2,296.70 L1874.2,296.74 L1877.2,296.77 L1880.2,296.79 L1883.2,296.80 L1886.2,296.80 L1889.2,296.79 L1892.2,296.78 L1895.2,296.77 L1898.2,296.75 L1901.2,296.73 L1904.2,296.71 L1907.2,296.68 L1910.2,296.65 L1913.2,296.62 L1916.2,296.59 L1919.2,296.55 L1922.2,296.52 L1925.2,296.48 L1928.2,296.44 L1931.2,296.40 L1934.2,296.37 L1937.2,296.33 L1940.2,296.29 L1943.2,296.25 L1946.2,296.21 L1949.2,296.17 L1952.2,296.12 L1955.2,296.07 L1958.2,296.02 L1961.2,295.97 L1964.2,295.91 L1967.2,295.85 L1970.2,295.79 L1973.2,295.73 L1976.2,295.67 L1979.2,295.61 L1982.2,295.54 L1985.2,295.48 L1988.2,295.41 L1991.2,295.34 L1994.2,295.27 L1997.2,295.20 L2000.2,295.13 L2003.2,295.07 L2006.2,295.00 L2009.2,294.93 L2012.2,294.86 L2015.2,294.79 L2018.2,294.72 L2021.2,294.65 L2024.2,294.59 L2027.2,294.52 L2030.2,294.46 L2033.2,294.40 L2036.2,294.33 L2039.2,294.27 L2042.2,294.22 L2045.2,294.16 L2048.2,294.11 L2051.2,294.05 L2054.2,294.00 L2057.2,293.95 L2060.2,293.90 L2063.2,293.85 L2066.2,293.79 L2069.2,293.74 L2072.2,293.69 L2075.2,293.64 L2078.2,293.59 L2081.2,293.54 L2084.2,293.49 L2087.2,293.44 L2090.2,293.40 L2093.2,293.35 L2096.2,293.30 L2099.2,293.25 L2102.2,293.20 L2105.2,293.16 L2108.2,293.11 L2111.2,293.07 L2114.2,293.02 L2117.2,292.97 L2120.2,292.93 L2123.2,292.88 L2126.2,292.84 L2129.2,292.80 L2132.2,292.75 L2135.2,292.71 L2138.2,292.67 L2141.2,292.62 L2144.2,292.58 L2147.2,292.54 L2150.2,292.50 L2153.2,292.46 L2156.2,292.42 L2156.2,508.6 L1226.2,508.6 Z" fill="#ff9600"/>
<path d="M1226.2,334.61 L1229.2,334.64 L1232.2,334.66 L1235.2,334.68 L1238.2,334.71 L1241.2,334.73 L1244.2,334.76 L1247.2,334.78 L1250.2,334.81 L1253.2,334.83 L1256.2,334.86 L1259.2,334.88 L1262.2,334.91 L1265.2,334.93 L1268.2,334.95 L1271.2,334.98 L1274.2,335.00 L1277.2,335.03 L1280.2,335.05 L1283.2,335.07 L1286.2,335.10 L1289.2,335.12 L1292.2,335.15 L1295.2,335.17 L1298.2,335.19 L1301.2,335.22 L1304.2,335.24 L1307.2,335.27 L1310.2,335.29 L1313.2,335.31 L1316.2,335.34 L1319.2,335.36 L1322.2,335.38 L1325.2,335.41 L1328.2,335.43 L1331.2,335.45 L1334.2,335.48 L1337.2,335.50 L1340.2,335.52 L1343.2,335.55 L1346.2,335.57 L1349.2,335.59 L1352.2,335.62 L1355.2,335.64 L1358.2,335.67 L1361.2,335.69 L1364.2,335.72 L1367.2,335.75 L1370.2,335.77 L1373.2,335.80 L1376.2,335.83 L1379.2,335.86 L1382.2,335.89 L1385.2,335.92 L1388.2,335.94 L1391.2,335.97 L1394.2,336.00 L1397.2,336.03 L1400.2,336.06 L1403.2,336.09 L1406.2,336.12 L1409.2,336.15 L1412.2,336.18 L1415.2,336.21 L1418.2,336.24 L1421.2,336.27 L1424.2,336.30 L1427.2,336.32 L1430.2,336.35 L1433.2,336.38 L1436.2,336.40 L1439.2,336.43 L1442.2,336.45 L1445.2,336.47 L1448.2,336.50 L1451.2,336.52 L1454.2,336.54 L1457.2,336.56 L1460.2,336.58 L1463.2,336.59 L1466.2,336.61 L1469.2,336.63 L1472.2,336.64 L1475.2,336.65 L1478.2,336.66 L1481.2,336.67 L1484.2,336.68 L1487.2,336.69 L1490.2,336.69 L1493.2,336.70 L1496.2,336.70 L1499.2,336.70 L1502.2,336.70 L1505.2,336.69 L1508.2,336.69 L1511.2,336.68 L1514.2,336.67 L1517.2,336.66 L1520.2,336.64 L1523.2,336.63 L1526.2,336.61 L1529.2,336.59 L1532.2,336.57 L1535.2,336.55 L1538.2,336.52 L1541.2,336.50 L1544.2,336.47 L1547.2,336.45 L1550.2,336.42 L1553.2,336.39 L1556.2,336.36 L1559.2,336.33 L1562.2,336.30 L1565.2,336.27 L1568.2,336.24 L1571.2,336.21 L1574.2,336.17 L1577.2,336.14 L1580.2,336.11 L1583.2,336.08 L1586.2,336.04 L1589.2,336.01 L1592.2,335.98 L1595.2,335.95 L1598.2,335.92 L1601.2,335.89 L1604.2,335.85 L1607.2,335.81 L1610.2,335.77 L1613.2,335.73 L1616.2,335.68 L1619.2,335.63 L1622.2,335.58 L1625.2,335.52 L1628.2,335.47 L1631.2,335.41 L1634.2,335.35 L1637.2,335.29 L1640.2,335.24 L1643.2,335.18 L1646.2,335.12 L1649.2,335.07 L1652.2,335.01 L1655.2,334.96 L1658.2,334.91 L1661.2,334.86 L1664.2,334.82 L1667.2,334.78 L1670.2,334.74 L1673.2,334.70 L1676.2,334.67 L1679.2,334.65 L1682.2,334.63 L1685.2,334.61 L1688.2,334.60 L1691.2,334.60 L1694.2,334.60 L1697.2,334.61 L1700.2,334.63 L1703.2,334.65 L1706.2,334.67 L1709.2,334.70 L1712.2,334.74 L1715.2,334.77 L1718.2,334.82 L1721.2,334.86 L1724.2,334.91 L1727.2,334.96 L1730.2,335.01 L1733.2,335.07 L1736.2,335.12 L1739.2,335.18 L1742.2,335.23 L1745.2,335.29 L1748.2,335.35 L1751.2,335.41 L1754.2,335.46 L1757.2,335.52 L1760.2,335.57 L1763.2,335.63 L1766.2,335.68 L1769.2,335.73 L1772.2,335.77 L1775.2,335.81 L1778.2,335.85 L1781.2,335.89 L1784.2,335.92 L1787.2,335.95 L1790.2,335.98 L1793.2,336.01 L1796.2,336.04 L1799.2,336.08 L1802.2,336.11 L1805.2,336.14 L1808.2,336.17 L1811.2,336.20 L1814.2,336.24 L1817.2,336.27 L1820.2,336.30 L1823.2,336.33 L1826.2,336.36 L1829.2,336.39 L1832.2,336.42 L1835.2,336.44 L1838.2,336.47 L1841.2,336.50 L1844.2,336.52 L1847.2,336.54 L1850.2,336.57 L1853.2,336.59 L1856.2,336.61 L1859.2,336.62 L1862.2,336.64 L1865.2,336.65 L1868.2,336.67 L1871.2,336.68 L1874.2,336.69 L1877.2,336.69 L1880.2,336.70 L1883.2,336.70 L1886.2,336.70 L1889.2,336.70 L1892.2,336.69 L1895.2,336.69 L1898.2,336.68 L1901.2,336.67 L1904.2,336.66 L1907.2,336.65 L1910.2,336.64 L1913.2,336.63 L1916.2,336.61 L1919.2,336.60 L1922.2,336.58 L1925.2,336.56 L1928.2,336.54 L1931.2,336.52 L1934.2,336.50 L1937.2,336.47 L1940.2,336.45 L1943.2,336.43 L1946.2,336.40 L1949.2,336.38 L1952.2,336.35 L1955.2,336.32 L1958.2,336.30 L1961.2,336.27 L1964.2,336.24 L1967.2,336.21 L1970.2,336.18 L1973.2,336.15 L1976.2,336.12 L1979.2,336.09 L1982.2,336.06 L1985.2,336.03 L1988.2,336.00 L1991.2,335.98 L1994.2,335.95 L1997.2,335.92 L2000.2,335.89 L2003.2,335.86 L2006.2,335.83 L2009.2,335.80 L2012.2,335.77 L2015.2,335.75 L2018.2,335.72 L2021.2,335.69 L2024.2,335.67 L2027.2,335.64 L2030.2,335.62 L2033.2,335.59 L2036.2,335.57 L2039.2,335.55 L2042.2,335.53 L2045.2,335.50 L2048.2,335.48 L2051.2,335.46 L2054.2,335.43 L2057.2,335.41 L2060.2,335.38 L2063.2,335.36 L2066.2,335.34 L2069.2,335.31 L2072.2,335.29 L2075.2,335.27 L2078.2,335.24 L2081.2,335.22 L2084.2,335.20 L2087.2,335.17 L2090.2,335.15 L2093.2,335.12 L2096.2,335.10 L2099.2,335.08 L2102.2,335.05 L2105.2,335.03 L2108.2,335.00 L2111.2,334.98 L2114.2,334.95 L2117.2,334.93 L2120.2,334.91 L2123.2,334.88 L2126.2,334.86 L2129.2,334.83 L2132.2,334.81 L2135.2,334.78 L2138.2,334.76 L2141.2,334.73 L2144.2,334.71 L2147.2,334.69 L2150.2,334.66 L2153.2,334.64 L2156.2,334.61 L2156.2,508.6 L1226.2,508.6 Z" fill="#ffe600"/>
<path d="M1226.2,368.10 L1229.2,368.11 L1232.2,368.11 L1235.2,368.11 L1238.2,368.12 L1241.2,368.12 L1244.2,368.13 L1247.2,368.13 L1250.2,368.14 L1253.2,368.14 L1256.2,368.15 L1259.2,368.15 L1262.2,368.16 L1265.2,368.17 L1268.2,368.17 L1271.2,368.18 L1274.2,368.18 L1277.2,368.19 L1280.2,368.20 L1283.2,368.20 L1286.2,368.21 L1289.2,368.22 L1292.2,368.22 L1295.2,368.23 L1298.2,368.24 L1301.2,368.24 L1304.2,368.25 L1307.2,368.26 L1310.2,368.27 L1313.2,368.27 L1316.2,368.28 L1319.2,368.29 L1322.2,368.30 L1325.2,368.31 L1328.2,368.31 L1331.2,368.32 L1334.2,368.33 L1337.2,368.34 L1340.2,368.35 L1343.2,368.36 L1346.2,368.36 L1349.2,368.37 L1352.2,368.38 L1355.2,368.39 L1358.2,368.40 L1361.2,368.41 L1364.2,368.42 L1367.2,368.43 L1370.2,368.44 L1373.2,368.45 L1376.2,368.46 L1379.2,368.47 L1382.2,368.48 L1385.2,368.49 L1388.2,368.50 L1391.2,368.51 L1394.2,368.52 L1397.2,368.53 L1400.2,368.54 L1403.2,368.55 L1406.2,368.56 L1409.2,368.57 L1412.2,368.58 L1415.2,368.59 L1418.2,368.60 L1421.2,368.61 L1424.2,368.62 L1427.2,368.63 L1430.2,368.64 L1433.2,368.65 L1436.2,368.66 L1439.2,368.68 L1442.2,368.69 L1445.2,368.70 L1448.2,368.71 L1451.2,368.72 L1454.2,368.73 L1457.2,368.74 L1460.2,368.75 L1463.2,368.77 L1466.2,368.78 L1469.2,368.79 L1472.2,368.80 L1475.2,368.81 L1478.2,368.82 L1481.2,368.83 L1484.2,368.85 L1487.2,368.86 L1490.2,368.87 L1493.2,368.88 L1496.2,368.89 L1499.2,368.90 L1502.2,368.92 L1505.2,368.93 L1508.2,368.95 L1511.2,368.96 L1514.2,368.98 L1517.2,368.99 L1520.2,369.01 L1523.2,369.03 L1526.2,369.04 L1529.2,369.06 L1532.2,369.08 L1535.2,369.10 L1538.2,369.12 L1541.2,369.14 L1544.2,369.16 L1547.2,369.19 L1550.2,369.21 L1553.2,369.23 L1556.2,369.25 L1559.2,369.27 L1562.2,369.30 L1565.2,369.32 L1568.2,369.34 L1571.2,369.37 L1574.2,369.39 L1577.2,369.41 L1580.2,369.43 L1583.2,369.46 L1586.2,369.48 L1589.2,369.50 L1592.2,369.53 L1595.2,369.55 L1598.2,369.57 L1601.2,369.59 L1604.2,369.62 L1607.2,369.64 L1610.2,369.66 L1613.2,369.68 L1616.2,369.70 L1619.2,369.72 L1622.2,369.74 L1625.2,369.76 L1628.2,369.78 L1631.2,369.80 L1634.2,369.82 L1637.2,369.83 L1640.2,369.85 L1643.2,369.87 L1646.2,369.88 L1649.2,369.89 L1652.2,369.91 L1655.2,369.92 L1658.2,369.93 L1661.2,369.94 L1664.2,369.95 L1667.2,369.96 L1670.2,369.97 L1673.2,369.98 L1676.2,369.99 L1679.2,369.99 L1682.2,369.99 L1685.2,370.00 L1688.2,370.00 L1691.2,370.00 L1694.2,370.00 L1697.2,370.00 L1700.2,369.99 L1703.2,369.99 L1706.2,369.99 L1709.2,369.98 L1712.2,369.97 L1715.2,369.96 L1718.2,369.95 L1721.2,369.94 L1724.2,369.93 L1727.2,369.92 L1730.2,369.91 L1733.2,369.90 L1736.2,369.88 L1739.2,369.87 L1742.2,369.85 L1745.2,369.83 L1748.2,369.82 L1751.2,369.80 L1754.2,369.78 L1757.2,369.76 L1760.2,369.74 L1763.2,369.72 L1766.2,369.70 L1769.2,369.68 L1772.2,369.66 L1775.2,369.64 L1778.2,369.62 L1781.2,369.60 L1784.2,369.57 L1787.2,369.55 L1790.2,369.53 L1793.2,369.50 L1796.2,369.48 L1799.2,369.46 L1802.2,369.44 L1805.2,369.41 L1808.2,369.39 L1811.2,369.37 L1814.2,369.34 L1817.2,369.32 L1820.2,369.30 L1823.2,369.27 L1826.2,369.25 L1829.2,369.23 L1832.2,369.21 L1835.2,369.19 L1838.2,369.16 L1841.2,369.14 L1844.2,369.12 L1847.2,369.10 L1850.2,369.08 L1853.2,369.06 L1856.2,369.05 L1859.2,369.03 L1862.2,369.01 L1865.2,368.99 L1868.2,368.98 L1871.2,368.96 L1874.2,368.95 L1877.2,368.93 L1880.2,368.92 L1883.2,368.91 L1886.2,368.89 L1889.2,368.88 L1892.2,368.87 L1895.2,368.86 L1898.2,368.85 L1901.2,368.83 L1904.2,368.82 L1907.2,368.81 L1910.2,368.80 L1913.2,368.79 L1916.2,368.78 L1919.2,368.77 L1922.2,368.75 L1925.2,368.74 L1928.2,368.73 L1931.2,368.72 L1934.2,368.71 L1937.2,368.70 L1940.2,368.69 L1943.2,368.68 L1946.2,368.66 L1949.2,368.65 L1952.2,368.64 L1955.2,368.63 L1958.2,368.62 L1961.2,368.61 L1964.2,368.60 L1967.2,368.59 L1970.2,368.58 L1973.2,368.57 L1976.2,368.56 L1979.2,368.55 L1982.2,368.54 L1985.2,368.53 L1988.2,368.52 L1991.2,368.51 L1994.2,368.50 L1997.2,368.49 L2000.2,368.48 L2003.2,368.47 L2006.2,368.46 L2009.2,368.45 L2012.2,368.44 L2015.2,368.43 L2018.2,368.42 L2021.2,368.41 L2024.2,368.40 L2027.2,368.39 L2030.2,368.38 L2033.2,368.37 L2036.2,368.36 L2039.2,368.36 L2042.2,368.35 L2045.2,368.34 L2048.2,368.33 L2051.2,368.32 L2054.2,368.31 L2057.2,368.31 L2060.2,368.30 L2063.2,368.29 L2066.2,368.28 L2069.2,368.27 L2072.2,368.27 L2075.2,368.26 L2078.2,368.25 L2081.2,368.24 L2084.2,368.24 L2087.2,368.23 L2090.2,368.22 L2093.2,368.22 L2096.2,368.21 L2099.2,368.20 L2102.2,368.20 L2105.2,368.19 L2108.2,368.18 L2111.2,368.18 L2114.2,368.17 L2117.2,368.17 L2120.2,368.16 L2123.2,368.15 L2126.2,368.15 L2129.2,368.14 L2132.2,368.14 L2135.2,368.13 L2138.2,368.13 L2141.2,368.12 L2144.2,368.12 L2147.2,368.11 L2150.2,368.11 L2153.2,368.11 L2156.2,368.10 L2156.2,508.6 L1226.2,508.6 Z" fill="#a0ff00"/>
<path d="M1226.2,397.30 L1229.2,397.30 L1232.2,397.30 L1235.2,397.31 L1238.2,397.31 L1241.2,397.31 L1244.2,397.31 L1247.2,397.32 L1250.2,397.32 L1253.2,397.32 L1256.2,397.33 L1259.2,397.33 L1262.2,397.33 L1265.2,397.34 L1268.2,397.34 L1271.2,397.35 L1274.2,397.35 L1277.2,397.36 L1280.2,397.36 L1283.2,397.37 L1286.2,397.37 L1289.2,397.38 L1292.2,397.38 L1295.2,397.39 L1298.2,397.40 L1301.2,397.40 L1304.2,397.41 L1307.2,397.42 L1310.2,397.42 L1313.2,397.43 L1316.2,397.44 L1319.2,397.45 L1322.2,397.45 L1325.2,397.46 L1328.2,397.47 L1331.2,397.48 L1334.2,397.49 L1337.2,397.49 L1340.2,397.50 L1343.2,397.51 L1346.2,397.52 L1349.2,397.53 L1352.2,397.54 L1355.2,397.55 L1358.2,397.56 L1361.2,397.57 L1364.2,397.58 L1367.2,397.59 L1370.2,397.60 L1373.2,397.61 L1376.2,397.62 L1379.2,397.63 L1382.2,397.64 L1385.2,397.65 L1388.2,397.66 L1391.2,397.67 L1394.2,397.68 L1397.2,397.69 L1400.2,397.70 L1403.2,397.71 L1406.2,397.73 L1409.2,397.74 L1412.2,397.75 L1415.2,397.76 L1418.2,397.77 L1421.2,397.78 L1424.2,397.79 L1427.2,397.81 L1430.2,397.82 L1433.2,397.83 L1436.2,397.84 L1439.2,397.85 L1442.2,397.87 L1445.2,397.88 L1448.2,397.89 L1451.2,397.90 L1454.2,397.92 L1457.2,397.93 L1460.2,397.94 L1463.2,397.95 L1466.2,397.97 L1469.2,397.98 L1472.2,397.99 L1475.2,398.00 L1478.2,398.02 L1481.2,398.03 L1484.2,398.04 L1487.2,398.05 L1490.2,398.07 L1493.2,398.08 L1496.2,398.09 L1499.2,398.11 L1502.2,398.12 L1505.2,398.13 L1508.2,398.15 L1511.2,398.17 L1514.2,398.19 L1517.2,398.21 L1520.2,398.23 L1523.2,398.25 L1526.2,398.27 L1529.2,398.29 L1532.2,398.32 L1535.2,398.34 L1538.2,398.36 L1541.2,398.39 L1544.2,398.42 L1547.2,398.44 L1550.2,398.47 L1553.2,398.50 L1556.2,398.53 L1559.2,398.55 L1562.2,398.58 L1565.2,398.61 L1568.2,398.64 L1571.2,398.67 L1574.2,398.70 L1577.2,398.73 L1580.2,398.76 L1583.2,398.79 L1586.2,398.82 L1589.2,398.85 L1592.2,398.88 L1595.2,398.91 L1598.2,398.94 L1601.2,398.97 L1604.2,399.00 L1607.2,399.02 L1610.2,399.05 L1613.2,399.08 L1616.2,399.11 L1619.2,399.13 L1622.2,399.16 L1625.2,399.18 L1628.2,399.21 L1631.2,399.23 L1634.2,399.26 L1637.2,399.28 L1640.2,399.30 L1643.2,399.32 L1646.2,399.34 L1649.2,399.36 L1652.2,399.38 L1655.2,399.40 L1658.2,399.41 L1661.2,399.43 L1664.2,399.44 L1667.2,399.45 L1670.2,399.46 L1673.2,399.47 L1676.2,399.48 L1679.2,399.49 L1682.2,399.49 L1685.2,399.50 L1688.2,399.50 L1691.2,399.50 L1694.2,399.50 L1697.2,399.50 L1700.2,399.49 L1703.2,399.49 L1706.2,399.48 L1709.2,399.47 L1712.2,399.46 L1715.2,399.45 L1718.2,399.44 L1721.2,399.43 L1724.2,399.41 L1727.2,399.40 L1730.2,399.38 L1733.2,399.36 L1736.2,399.34 L1739.2,399.32 L1742.2,399.30 L1745.2,399.28 L1748.2,399.26 L1751.2,399.23 L1754.2,399.21 L1757.2,399.19 L1760.2,399.16 L1763.2,399.13 L1766.2,399.11 L1769.2,399.08 L1772.2,399.05 L1775.2,399.03 L1778.2,399.00 L1781.2,398.97 L1784.2,398.94 L1787.2,398.91 L1790.2,398.88 L1793.2,398.85 L1796.2,398.82 L1799.2,398.79 L1802.2,398.76 L1805.2,398.73 L1808.2,398.70 L1811.2,398.67 L1814.2,398.64 L1817.2,398.61 L1820.2,398.58 L1823.2,398.56 L1826.2,398.53 L1829.2,398.50 L1832.2,398.47 L1835.2,398.44 L1838.2,398.42 L1841.2,398.39 L1844.2,398.37 L1847.2,398.34 L1850.2,398.32 L1853.2,398.29 L1856.2,398.27 L1859.2,398.25 L1862.2,398.23 L1865.2,398.21 L1868.2,398.19 L1871.2,398.17 L1874.2,398.15 L1877.2,398.14 L1880.2,398.12 L1883.2,398.11 L1886.2,398.09 L1889.2,398.08 L1892.2,398.07 L1895.2,398.05 L1898.2,398.04 L1901.2,398.03 L1904.2,398.02 L1907.2,398.00 L1910.2,397.99 L1913.2,397.98 L1916.2,397.97 L1919.2,397.95 L1922.2,397.94 L1925.2,397.93 L1928.2,397.92 L1931.2,397.90 L1934.2,397.89 L1937.2,397.88 L1940.2,397.87 L1943.2,397.85 L1946.2,397.84 L1949.2,397.83 L1952.2,397.82 L1955.2,397.81 L1958.2,397.79 L1961.2,397.78 L1964.2,397.77 L1967.2,397.76 L1970.2,397.75 L1973.2,397.74 L1976.2,397.73 L1979.2,397.71 L1982.2,397.70 L1985.2,397.69 L1988.2,397.68 L1991.2,397.67 L1994.2,397.66 L1997.2,397.65 L2000.2,397.64 L2003.2,397.63 L2006.2,397.62 L2009.2,397.61 L2012.2,397.60 L2015.2,397.59 L2018.2,397.58 L2021.2,397.57 L2024.2,397.56 L2027.2,397.55 L2030.2,397.54 L2033.2,397.53 L2036.2,397.52 L2039.2,397.51 L2042.2,397.50 L2045.2,397.49 L2048.2,397.49 L2051.2,397.48 L2054.2,397.47 L2057.2,397.46 L2060.2,397.45 L2063.2,397.45 L2066.2,397.44 L2069.2,397.43 L2072.2,397.42 L2075.2,397.42 L2078.2,397.41 L2081.2,397.40 L2084.2,397.40 L2087.2,397.39 L2090.2,397.38 L2093.2,397.38 L2096.2,397.37 L2099.2,397.37 L2102.2,397.36 L2105.2,397.36 L2108.2,397.35 L2111.2,397.35 L2114.2,397.34 L2117.2,397.34 L2120.2,397.33 L2123.2,397.33 L2126.2,397.33 L2129.2,397.32 L2132.2,397.32 L2135.2,397.32 L2138.2,397.31 L2141.2,397.31 L2144.2,397.31 L2147.2,397.31 L2150.2,397.30 L2153.2,397.30 L2156.2,397.30 L2156.2,508.6 L1226.2,508.6 Z" fill="#1eff00"/>
<path d="M1226.2,422.70 L1229.2,422.70 L1232.2,422.70 L1235.2,422.70 L1238.2,422.70 L1241.2,422.70 L1244.2,422.70 L1247.2,422.70 L1250.2,422.70 L1253.2,422.70 L1256.2,422.70 L1259.2,422.71 L1262.2,422.71 L1265.2,422.71 L1268.2,422.71 L1271.2,422.71 L1274.2,422.71 L1277.2,422.71 L1280.2,422.71 L1283.2,422.71 L1286.2,422.72 L1289.2,422.72 L1292.2,422.72 L1295.2,422.72 L1298.2,422.72 L1301.2,422.73 L1304.2,422.73 L1307.2,422.73 L1310.2,422.73 L1313.2,422.73 L1316.2,422.74 L1319.2,422.74 L1322.2,422.74 L1325.2,422.74 L1328.2,422.75 L1331.2,422.75 L1334.2,422.75 L1337.2,422.75 L1340.2,422.76 L1343.2,422.76 L1346.2,422.76 L1349.2,422.77 L1352.2,422.77 L1355.2,422.77 L1358.2,422.78 L1361.2,422.78 L1364.2,422.78 L1367.2,422.79 L1370.2,422.79 L1373.2,422.79 L1376.2,422.80 L1379.2,422.80 L1382.2,422.80 L1385.2,422.81 L1388.2,422.81 L1391.2,422.82 L1394.2,422.82 L1397.2,422.82 L1400.2,422.83 L1403.2,422.83 L1406.2,422.84 L1409.2,422.84 L1412.2,422.85 L1415.2,422.85 L1418.2,422.86 L1421.2,422.86 L1424.2,422.86 L1427.2,422.87 L1430.2,422.87 L1433.2,422.88 L1436.2,422.88 L1439.2,422.89 L1442.2,422.89 L1445.2,422.90 L1448.2,422.90 L1451.2,422.91 L1454.2,422.92 L1457.2,422.92 L1460.2,422.93 L1463.2,422.93 L1466.2,422.94 L1469.2,422.94 L1472.2,422.95 L1475.2,422.95 L1478.2,422.96 L1481.2,422.97 L1484.2,422.97 L1487.2,422.98 L1490.2,422.98 L1493.2,422.99 L1496.2,423.00 L1499.2,423.00 L1502.2,423.01 L1505.2,423.02 L1508.2,423.03 L1511.2,423.05 L1514.2,423.07 L1517.2,423.09 L1520.2,423.11 L1523.2,423.13 L1526.2,423.15 L1529.2,423.18 L1532.2,423.21 L1535.2,423.23 L1538.2,423.27 L1541.2,423.30 L1544.2,423.33 L1547.2,423.36 L1550.2,423.40 L1553.2,423.44 L1556.2,423.47 L1559.2,423.51 L1562.2,423.55 L1565.2,423.59 L1568.2,423.63 L1571.2,423.67 L1574.2,423.71 L1577.2,423.75 L1580.2,423.80 L1583.2,423.84 L1586.2,423.88 L1589.2,423.92 L1592.2,423.97 L1595.2,424.01 L1598.2,424.05 L1601.2,424.09 L1604.2,424.14 L1607.2,424.18 L1610.2,424.22 L1613.2,424.26 L1616.2,424.30 L1619.2,424.34 L1622.2,424.38 L1625.2,424.42 L1628.2,424.45 L1631.2,424.49 L1634.2,424.53 L1637.2,424.56 L1640.2,424.59 L1643.2,424.62 L1646.2,424.66 L1649.2,424.68 L1652.2,424.71 L1655.2,424.74 L1658.2,424.76 L1661.2,424.78 L1664.2,424.81 L1667.2,424.82 L1670.2,424.84 L1673.2,424.86 L1676.2,424.87 L1679.2,424.88 L1682.2,424.89 L1685.2,424.89 L1688.2,424.90 L1691.2,424.90 L1694.2,424.90 L1697.2,424.90 L1700.2,424.89 L1703.2,424.88 L1706.2,424.87 L1709.2,424.86 L1712.2,424.84 L1715.2,424.83 L1718.2,424.81 L1721.2,424.79 L1724.2,424.76 L1727.2,424.74 L1730.2,424.71 L1733.2,424.69 L1736.2,424.66 L1739.2,424.63 L1742.2,424.59 L1745.2,424.56 L1748.2,424.53 L1751.2,424.49 L1754.2,424.46 L1757.2,424.42 L1760.2,424.38 L1763.2,424.34 L1766.2,424.30 L1769.2,424.26 L1772.2,424.22 L1775.2,424.18 L1778.2,424.14 L1781.2,424.09 L1784.2,424.05 L1787.2,424.01 L1790.2,423.97 L1793.2,423.92 L1796.2,423.88 L1799.2,423.84 L1802.2,423.80 L1805.2,423.75 L1808.2,423.71 L1811.2,423.67 L1814.2,423.63 L1817.2,423.59 L1820.2,423.55 L1823.2,423.51 L1826.2,423.47 L1829.2,423.44 L1832.2,423.40 L1835.2,423.36 L1838.2,423.33 L1841.2,423.30 L1844.2,423.27 L1847.2,423.24 L1850.2,423.21 L1853.2,423.18 L1856.2,423.15 L1859.2,423.13 L1862.2,423.11 L1865.2,423.09 L1868.2,423.07 L1871.2,423.05 L1874.2,423.03 L1877.2,423.02 L1880.2,423.01 L1883.2,423.00 L1886.2,423.00 L1889.2,422.99 L1892.2,422.98 L1895.2,422.98 L1898.2,422.97 L1901.2,422.97 L1904.2,422.96 L1907.2,422.95 L1910.2,422.95 L1913.2,422.94 L1916.2,422.94 L1919.2,422.93 L1922.2,422.93 L1925.2,422.92 L1928.2,422.92 L1931.2,422.91 L1934.2,422.91 L1937.2,422.90 L1940.2,422.89 L1943.2,422.89 L1946.2,422.88 L1949.2,422.88 L1952.2,422.87 L1955.2,422.87 L1958.2,422.86 L1961.2,422.86 L1964.2,422.86 L1967.2,422.85 L1970.2,422.85 L1973.2,422.84 L1976.2,422.84 L1979.2,422.83 L1982.2,422.83 L1985.2,422.82 L1988.2,422.82 L1991.2,422.82 L1994.2,422.81 L1997.2,422.81 L2000.2,422.80 L2003.2,422.80 L2006.2,422.80 L2009.2,422.79 L2012.2,422.79 L2015.2,422.79 L2018.2,422.78 L2021.2,422.78 L2024.2,422.78 L2027.2,422.77 L2030.2,422.77 L2033.2,422.77 L2036.2,422.76 L2039.2,422.76 L2042.2,422.76 L2045.2,422.75 L2048.2,422.75 L2051.2,422.75 L2054.2,422.75 L2057.2,422.74 L2060.2,422.74 L2063.2,422.74 L2066.2,422.74 L2069.2,422.73 L2072.2,422.73 L2075.2,422.73 L2078.2,422.73 L2081.2,422.73 L2084.2,422.72 L2087.2,422.72 L2090.2,422.72 L2093.2,422.72 L2096.2,422.72 L2099.2,422.71 L2102.2,422.71 L2105.2,422.71 L2108.2,422.71 L2111.2,422.71 L2114.2,422.71 L2117.2,422.71 L2120.2,422.71 L2123.2,422.71 L2126.2,422.70 L2129.2,422.70 L2132.2,422.70 L2135.2,422.70 L2138.2,422.70 L2141.2,422.70 L2144.2,422.70 L2147.2,422.70 L2150.2,422.70 L2153.2,422.70 L2156.2,422.70 L2156.2,508.6 L1226.2,508.6 Z" fill="#00ff64"/>
<path d="M1226.2,445.90 L1229.2,445.90 L1232.2,445.90 L1235.2,445.90 L1238.2,445.90 L1241.2,445.90 L1244.2,445.90 L1247.2,445.90 L1250.2,445.90 L1253.2,445.90 L1256.2,445.90 L1259.2,445.91 L1262.2,445.91 L1265.2,445.91 L1268.2,445.91 L1271.2,445.91 L1274.2,445.91 L1277.2,445.91 L1280.2,445.91 L1283.2,445.91 L1286.2,445.92 L1289.2,445.92 L1292.2,445.92 L1295.2,445.92 L1298.2,445.92 L1301.2,445.93 L1304.2,445.93 L1307.2,445.93 L1310.2,445.93 L1313.2,445.93 L1316.2,445.94 L1319.2,445.94 L1322.2,445.94 L1325.2,445.94 L1328.2,445.95 L1331.2,445.95 L1334.2,445.95 L1337.2,445.95 L1340.2,445.96 L1343.2,445.96 L1346.2,445.96 L1349.2,445.97 L1352.2,445.97 L1355.2,445.97 L1358.2,445.98 L1361.2,445.98 L1364.2,445.98 L1367.2,445.99 L1370.2,445.99 L1373.2,445.99 L1376.2,446.00 L1379.2,446.00 L1382.2,446.00 L1385.2,446.01 L1388.2,446.01 L1391.2,446.02 L1394.2,446.02 L1397.2,446.02 L1400.2,446.03 L1403.2,446.03 L1406.2,446.04 L1409.2,446.04 L1412.2,446.05 L1415.2,446.05 L1418.2,446.06 L1421.2,446.06 L1424.2,446.06 L1427.2,446.07 L1430.2,446.07 L1433.2,446.08 L1436.2,446.08 L1439.2,446.09 L1442.2,446.09 L1445.2,446.10 L1448.2,446.10 L1451.2,446.11 L1454.2,446.12 L1457.2,446.12 L1460.2,446.13 L1463.2,446.13 L1466.2,446.14 L1469.2,446.14 L1472.2,446.15 L1475.2,446.15 L1478.2,446.16 L1481.2,446.17 L1484.2,446.17 L1487.2,446.18 L1490.2,446.18 L1493.2,446.19 L1496.2,446.20 L1499.2,446.20 L1502.2,446.21 L1505.2,446.22 L1508.2,446.23 L1511.2,446.25 L1514.2,446.27 L1517.2,446.29 L1520.2,446.31 L1523.2,446.33 L1526.2,446.35 L1529.2,446.38 L1532.2,446.41 L1535.2,446.43 L1538.2,446.47 L1541.2,446.50 L1544.2,446.53 L1547.2,446.56 L1550.2,446.60 L1553.2,446.64 L1556.2,446.67 L1559.2,446.71 L1562.2,446.75 L1565.2,446.79 L1568.2,446.83 L1571.2,446.87 L1574.2,446.91 L1577.2,446.95 L1580.2,447.00 L1583.2,447.04 L1586.2,447.08 L1589.2,447.12 L1592.2,447.17 L1595.2,447.21 L1598.2,447.25 L1601.2,447.29 L1604.2,447.34 L1607.2,447.38 L1610.2,447.42 L1613.2,447.46 L1616.2,447.50 L1619.2,447.54 L1622.2,447.58 L1625.2,447.62 L1628.2,447.65 L1631.2,447.69 L1634.2,447.73 L1637.2,447.76 L1640.2,447.79 L1643.2,447.82 L1646.2,447.86 L1649.2,447.88 L1652.2,447.91 L1655.2,447.94 L1658.2,447.96 L1661.2,447.98 L1664.2,448.01 L1667.2,448.02 L1670.2,448.04 L1673.2,448.06 L1676.2,448.07 L1679.2,448.08 L1682.2,448.09 L1685.2,448.09 L1688.2,448.10 L1691.2,448.10 L1694.2,448.10 L1697.2,448.10 L1700.2,448.09 L1703.2,448.08 L1706.2,448.07 L1709.2,448.06 L1712.2,448.04 L1715.2,448.03 L1718.2,448.01 L1721.2,447.99 L1724.2,447.96 L1727.2,447.94 L1730.2,447.91 L1733.2,447.89 L1736.2,447.86 L1739.2,447.83 L1742.2,447.79 L1745.2,447.76 L1748.2,447.73 L1751.2,447.69 L1754.2,447.66 L1757.2,447.62 L1760.2,447.58 L1763.2,447.54 L1766.2,447.50 L1769.2,447.46 L1772.2,447.42 L1775.2,447.38 L1778.2,447.34 L1781.2,447.29 L1784.2,447.25 L1787.2,447.21 L1790.2,447.17 L1793.2,447.12 L1796.2,447.08 L1799.2,447.04 L1802.2,447.00 L1805.2,446.95 L1808.2,446.91 L1811.2,446.87 L1814.2,446.83 L1817.2,446.79 L1820.2,446.75 L1823.2,446.71 L1826.2,446.67 L1829.2,446.64 L1832.2,446.60 L1835.2,446.56 L1838.2,446.53 L1841.2,446.50 L1844.2,446.47 L1847.2,446.44 L1850.2,446.41 L1853.2,446.38 L1856.2,446.35 L1859.2,446.33 L1862.2,446.31 L1865.2,446.29 L1868.2,446.27 L1871.2,446.25 L1874.2,446.23 L1877.2,446.22 L1880.2,446.21 L1883.2,446.20 L1886.2,446.20 L1889.2,446.19 L1892.2,446.18 L1895.2,446.18 L1898.2,446.17 L1901.2,446.17 L1904.2,446.16 L1907.2,446.15 L1910.2,446.15 L1913.2,446.14 L1916.2,446.14 L1919.2,446.13 L1922.2,446.13 L1925.2,446.12 L1928.2,446.12 L1931.2,446.11 L1934.2,446.11 L1937.2,446.10 L1940.2,446.09 L1943.2,446.09 L1946.2,446.08 L1949.2,446.08 L1952.2,446.07 L1955.2,446.07 L1958.2,446.06 L1961.2,446.06 L1964.2,446.06 L1967.2,446.05 L1970.2,446.05 L1973.2,446.04 L1976.2,446.04 L1979.2,446.03 L1982.2,446.03 L1985.2,446.02 L1988.2,446.02 L1991.2,446.02 L1994.2,446.01 L1997.2,446.01 L2000.2,446.00 L2003.2,446.00 L2006.2,446.00 L2009.2,445.99 L2012.2,445.99 L2015.2,445.99 L2018.2,445.98 L2021.2,445.98 L2024.2,445.98 L2027.2,445.97 L2030.2,445.97 L2033.2,445.97 L2036.2,445.96 L2039.2,445.96 L2042.2,445.96 L2045.2,445.95 L2048.2,445.95 L2051.2,445.95 L2054.2,445.95 L2057.2,445.94 L2060.2,445.94 L2063.2,445.94 L2066.2,445.94 L2069.2,445.93 L2072.2,445.93 L2075.2,445.93 L2078.2,445.93 L2081.2,445.93 L2084.2,445.92 L2087.2,445.92 L2090.2,445.92 L2093.2,445.92 L2096.2,445.92 L2099.2,445.91 L2102.2,445.91 L2105.2,445.91 L2108.2,445.91 L2111.2,445.91 L2114.2,445.91 L2117.2,445.91 L2120.2,445.91 L2123.2,445.91 L2126.2,445.90 L2129.2,445.90 L2132.2,445.90 L2135.2,445.90 L2138.2,445.90 L2141.2,445.90 L2144.2,445.90 L2147.2,445.90 L2150.2,445.90 L2153.2,445.90 L2156.2,445.90 L2156.2,508.6 L1226.2,508.6 Z" fill="#00fff0"/>
<path d="M1226.2,467.70 L1229.2,467.70 L1232.2,467.70 L1235.2,467.70 L1238.2,467.70 L1241.2,467.70 L1244.2,467.70 L1247.2,467.70 L1250.2,467.70 L1253.2,467.70 L1256.2,467.70 L1259.2,467.70 L1262.2,467.70 L1265.2,467.70 L1268.2,467.70 L1271.2,467.70 L1274.2,467.70 L1277.2,467.70 L1280.2,467.70 L1283.2,467.70 L1286.2,467.70 L1289.2,467.70 L1292.2,467.70 L1295.2,467.70 L1298.2,467.70 L1301.2,467.70 L1304.2,467.70 L1307.2,467.70 L1310.2,467.70 L1313.2,467.70 L1316.2,467.70 L1319.2,467.70 L1322.2,467.70 L1325.2,467.70 L1328.2,467.70 L1331.2,467.70 L1334.2,467.70 L1337.2,467.70 L1340.2,467.70 L1343.2,467.70 L1346.2,467.70 L1349.2,467.70 L1352.2,467.70 L1355.2,467.70 L1358.2,467.70 L1361.2,467.70 L1364.2,467.70 L1367.2,467.70 L1370.2,467.70 L1373.2,467.70 L1376.2,467.70 L1379.2,467.70 L1382.2,467.70 L1385.2,467.70 L1388.2,467.70 L1391.2,467.70 L1394.2,467.70 L1397.2,467.70 L1400.2,467.70 L1403.2,467.70 L1406.2,467.70 L1409.2,467.70 L1412.2,467.70 L1415.2,467.70 L1418.2,467.70 L1421.2,467.70 L1424.2,467.70 L1427.2,467.70 L1430.2,467.70 L1433.2,467.70 L1436.2,467.70 L1439.2,467.70 L1442.2,467.70 L1445.2,467.70 L1448.2,467.70 L1451.2,467.70 L1454.2,467.70 L1457.2,467.70 L1460.2,467.70 L1463.2,467.70 L1466.2,467.70 L1469.2,467.70 L1472.2,467.70 L1475.2,467.70 L1478.2,467.70 L1481.2,467.70 L1484.2,467.70 L1487.2,467.70 L1490.2,467.70 L1493.2,467.70 L1496.2,467.70 L1499.2,467.70 L1502.2,467.70 L1505.2,467.71 L1508.2,467.72 L1511.2,467.73 L1514.2,467.74 L1517.2,467.75 L1520.2,467.77 L1523.2,467.79 L1526.2,467.81 L1529.2,467.83 L1532.2,467.86 L1535.2,467.88 L1538.2,467.91 L1541.2,467.94 L1544.2,467.97 L1547.2,468.01 L1550.2,468.04 L1553.2,468.08 L1556.2,468.11 L1559.2,468.15 L1562.2,468.19 L1565.2,468.23 L1568.2,468.27 L1571.2,468.31 L1574.2,468.35 L1577.2,468.40 L1580.2,468.44 L1583.2,468.48 L1586.2,468.53 L1589.2,468.57 L1592.2,468.61 L1595.2,468.66 L1598.2,468.70 L1601.2,468.75 L1604.2,468.79 L1607.2,468.83 L1610.2,468.88 L1613.2,468.92 L1616.2,468.96 L1619.2,469.00 L1622.2,469.05 L1625.2,469.09 L1628.2,469.13 L1631.2,469.16 L1634.2,469.20 L1637.2,469.24 L1640.2,469.27 L1643.2,469.31 L1646.2,469.34 L1649.2,469.37 L1652.2,469.40 L1655.2,469.43 L1658.2,469.45 L1661.2,469.48 L1664.2,469.50 L1667.2,469.52 L1670.2,469.54 L1673.2,469.55 L1676.2,469.57 L1679.2,469.58 L1682.2,469.59 L1685.2,469.59 L1688.2,469.60 L1691.2,469.60 L1694.2,469.60 L1697.2,469.59 L1700.2,469.59 L1703.2,469.58 L1706.2,469.57 L1709.2,469.55 L1712.2,469.54 L1715.2,469.52 L1718.2,469.50 L1721.2,469.48 L1724.2,469.45 L1727.2,469.43 L1730.2,469.40 L1733.2,469.37 L1736.2,469.34 L1739.2,469.31 L1742.2,469.27 L1745.2,469.24 L1748.2,469.20 L1751.2,469.17 L1754.2,469.13 L1757.2,469.09 L1760.2,469.05 L1763.2,469.01 L1766.2,468.96 L1769.2,468.92 L1772.2,468.88 L1775.2,468.84 L1778.2,468.79 L1781.2,468.75 L1784.2,468.70 L1787.2,468.66 L1790.2,468.62 L1793.2,468.57 L1796.2,468.53 L1799.2,468.48 L1802.2,468.44 L1805.2,468.40 L1808.2,468.36 L1811.2,468.31 L1814.2,468.27 L1817.2,468.23 L1820.2,468.19 L1823.2,468.15 L1826.2,468.11 L1829.2,468.08 L1832.2,468.04 L1835.2,468.01 L1838.2,467.98 L1841.2,467.94 L1844.2,467.91 L1847.2,467.89 L1850.2,467.86 L1853.2,467.83 L1856.2,467.81 L1859.2,467.79 L1862.2,467.77 L1865.2,467.75 L1868.2,467.74 L1871.2,467.73 L1874.2,467.72 L1877.2,467.71 L1880.2,467.70 L1883.2,467.70 L1886.2,467.70 L1889.2,467.70 L1892.2,467.70 L1895.2,467.70 L1898.2,467.70 L1901.2,467.70 L1904.2,467.70 L1907.2,467.70 L1910.2,467.70 L1913.2,467.70 L1916.2,467.70 L1919.2,467.70 L1922.2,467.70 L1925.2,467.70 L1928.2,467.70 L1931.2,467.70 L1934.2,467.70 L1937.2,467.70 L1940.2,467.70 L1943.2,467.70 L1946.2,467.70 L1949.2,467.70 L1952.2,467.70 L1955.2,467.70 L1958.2,467.70 L1961.2,467.70 L1964.2,467.70 L1967.2,467.70 L1970.2,467.70 L1973.2,467.70 L1976.2,467.70 L1979.2,467.70 L1982.2,467.70 L1985.2,467.70 L1988.2,467.70 L1991.2,467.70 L1994.2,467.70 L1997.2,467.70 L2000.2,467.70 L2003.2,467.70 L2006.2,467.70 L2009.2,467.70 L2012.2,467.70 L2015.2,467.70 L2018.2,467.70 L2021.2,467.70 L2024.2,467.70 L2027.2,467.70 L2030.2,467.70 L2033.2,467.70 L2036.2,467.70 L2039.2,467.70 L2042.2,467.70 L2045.2,467.70 L2048.2,467.70 L2051.2,467.70 L2054.2,467.70 L2057.2,467.70 L2060.2,467.70 L2063.2,467.70 L2066.2,467.70 L2069.2,467.70 L2072.2,467.70 L2075.2,467.70 L2078.2,467.70 L2081.2,467.70 L2084.2,467.70 L2087.2,467.70 L2090.2,467.70 L2093.2,467.70 L2096.2,467.70 L2099.2,467.70 L2102.2,467.70 L2105.2,467.70 L2108.2,467.70 L2111.2,467.70 L2114.2,467.70 L2117.2,467.70 L2120.2,467.70 L2123.2,467.70 L2126.2,467.70 L2129.2,467.70 L2132.2,467.70 L2135.2,467.70 L2138.2,467.70 L2141.2,467.70 L2144.2,467.70 L2147.2,467.70 L2150.2,467.70 L2153.2,467.70 L2156.2,467.70 L2156.2,508.6 L1226.2,508.6 Z" fill="#1982e6"/>
<path d="M1226.2,487.90 L1229.2,487.89 L1232.2,487.88 L1235.2,487.87 L1238.2,487.86 L1241.2,487.85 L1244.2,487.84 L1247.2,487.83 L1250.2,487.82 L1253.2,487.82 L1256.2,487.81 L1259.2,487.80 L1262.2,487.79 L1265.2,487.79 L1268.2,487.78 L1271.2,487.77 L1274.2,487.77 L1277.2,487.76 L1280.2,487.75 L1283.2,487.75 L1286.2,487.74 L1289.2,487.73 L1292.2,487.73 L1295.2,487.72 L1298.2,487.72 L1301.2,487.71 L1304.2,487.71 L1307.2,487.70 L1310.2,487.70 L1313.2,487.69 L1316.2,487.69 L1319.2,487.68 L1322.2,487.68 L1325.2,487.68 L1328.2,487.67 L1331.2,487.67 L1334.2,487.66 L1337.2,487.66 L1340.2,487.66 L1343.2,487.65 L1346.2,487.65 L1349.2,487.65 L1352.2,487.65 L1355.2,487.64 L1358.2,487.64 L1361.2,487.64 L1364.2,487.64 L1367.2,487.63 L1370.2,487.63 L1373.2,487.63 L1376.2,487.63 L1379.2,487.62 L1382.2,487.62 L1385.2,487.62 L1388.2,487.62 L1391.2,487.62 L1394.2,487.62 L1397.2,487.62 L1400.2,487.61 L1403.2,487.61 L1406.2,487.61 L1409.2,487.61 L1412.2,487.61 L1415.2,487.61 L1418.2,487.61 L1421.2,487.61 L1424.2,487.61 L1427.2,487.61 L1430.2,487.60 L1433.2,487.60 L1436.2,487.60 L1439.2,487.60 L1442.2,487.60 L1445.2,487.60 L1448.2,487.60 L1451.2,487.60 L1454.2,487.60 L1457.2,487.60 L1460.2,487.60 L1463.2,487.60 L1466.2,487.60 L1469.2,487.60 L1472.2,487.60 L1475.2,487.60 L1478.2,487.60 L1481.2,487.60 L1484.2,487.60 L1487.2,487.60 L1490.2,487.60 L1493.2,487.60 L1496.2,487.60 L1499.2,487.60 L1502.2,487.60 L1505.2,487.60 L1508.2,487.61 L1511.2,487.61 L1514.2,487.62 L1517.2,487.63 L1520.2,487.64 L1523.2,487.65 L1526.2,487.66 L1529.2,487.67 L1532.2,487.68 L1535.2,487.70 L1538.2,487.71 L1541.2,487.73 L1544.2,487.74 L1547.2,487.76 L1550.2,487.78 L1553.2,487.80 L1556.2,487.82 L1559.2,487.84 L1562.2,487.86 L1565.2,487.88 L1568.2,487.90 L1571.2,487.92 L1574.2,487.94 L1577.2,487.97 L1580.2,487.99 L1583.2,488.01 L1586.2,488.04 L1589.2,488.06 L1592.2,488.08 L1595.2,488.11 L1598.2,488.13 L1601.2,488.15 L1604.2,488.18 L1607.2,488.20 L1610.2,488.23 L1613.2,488.26 L1616.2,488.29 L1619.2,488.33 L1622.2,488.38 L1625.2,488.42 L1628.2,488.47 L1631.2,488.52 L1634.2,488.57 L1637.2,488.62 L1640.2,488.67 L1643.2,488.73 L1646.2,488.78 L1649.2,488.83 L1652.2,488.89 L1655.2,488.94 L1658.2,488.99 L1661.2,489.03 L1664.2,489.08 L1667.2,489.12 L1670.2,489.16 L1673.2,489.19 L1676.2,489.22 L1679.2,489.25 L1682.2,489.27 L1685.2,489.29 L1688.2,489.30 L1691.2,489.30 L1694.2,489.30 L1697.2,489.29 L1700.2,489.27 L1703.2,489.25 L1706.2,489.23 L1709.2,489.20 L1712.2,489.16 L1715.2,489.12 L1718.2,489.08 L1721.2,489.04 L1724.2,488.99 L1727.2,488.94 L1730.2,488.89 L1733.2,488.84 L1736.2,488.78 L1739.2,488.73 L1742.2,488.68 L1745.2,488.62 L1748.2,488.57 L1751.2,488.52 L1754.2,488.47 L1757.2,488.42 L1760.2,488.38 L1763.2,488.33 L1766.2,488.30 L1769.2,488.26 L1772.2,488.23 L1775.2,488.20 L1778.2,488.18 L1781.2,488.16 L1784.2,488.13 L1787.2,488.11 L1790.2,488.08 L1793.2,488.06 L1796.2,488.04 L1799.2,488.01 L1802.2,487.99 L1805.2,487.97 L1808.2,487.94 L1811.2,487.92 L1814.2,487.90 L1817.2,487.88 L1820.2,487.86 L1823.2,487.84 L1826.2,487.82 L1829.2,487.80 L1832.2,487.78 L1835.2,487.76 L1838.2,487.74 L1841.2,487.73 L1844.2,487.71 L1847.2,487.70 L1850.2,487.68 L1853.2,487.67 L1856.2,487.66 L1859.2,487.65 L1862.2,487.64 L1865.2,487.63 L1868.2,487.62 L1871.2,487.61 L1874.2,487.61 L1877.2,487.60 L1880.2,487.60 L1883.2,487.60 L1886.2,487.60 L1889.2,487.60 L1892.2,487.60 L1895.2,487.60 L1898.2,487.60 L1901.2,487.60 L1904.2,487.60 L1907.2,487.60 L1910.2,487.60 L1913.2,487.60 L1916.2,487.60 L1919.2,487.60 L1922.2,487.60 L1925.2,487.60 L1928.2,487.60 L1931.2,487.60 L1934.2,487.60 L1937.2,487.60 L1940.2,487.60 L1943.2,487.60 L1946.2,487.60 L1949.2,487.60 L1952.2,487.60 L1955.2,487.61 L1958.2,487.61 L1961.2,487.61 L1964.2,487.61 L1967.2,487.61 L1970.2,487.61 L1973.2,487.61 L1976.2,487.61 L1979.2,487.61 L1982.2,487.61 L1985.2,487.62 L1988.2,487.62 L1991.2,487.62 L1994.2,487.62 L1997.2,487.62 L2000.2,487.62 L2003.2,487.62 L2006.2,487.63 L2009.2,487.63 L2012.2,487.63 L2015.2,487.63 L2018.2,487.64 L2021.2,487.64 L2024.2,487.64 L2027.2,487.64 L2030.2,487.65 L2033.2,487.65 L2036.2,487.65 L2039.2,487.65 L2042.2,487.66 L2045.2,487.66 L2048.2,487.66 L2051.2,487.67 L2054.2,487.67 L2057.2,487.68 L2060.2,487.68 L2063.2,487.68 L2066.2,487.69 L2069.2,487.69 L2072.2,487.70 L2075.2,487.70 L2078.2,487.71 L2081.2,487.71 L2084.2,487.72 L2087.2,487.72 L2090.2,487.73 L2093.2,487.73 L2096.2,487.74 L2099.2,487.75 L2102.2,487.75 L2105.2,487.76 L2108.2,487.76 L2111.2,487.77 L2114.2,487.78 L2117.2,487.79 L2120.2,487.79 L2123.2,487.80 L2126.2,487.81 L2129.2,487.82 L2132.2,487.82 L2135.2,487.83 L2138.2,487.84 L2141.2,487.85 L2144.2,487.86 L2147.2,487.87 L2150.2,487.88 L2153.2,487.89 L2156.2,487.90 L2156.2,508.6 L1226.2,508.6 Z" fill="#3200c8"/>
</g>
<rect x="1227.35" y="50.45" width="927.93" height="2.00" fill="#1e1e1e"/>
<rect x="1227.35" y="505.50" width="927.93" height="2.30" fill="#1e1e1e"/>
<rect x="1227.35" y="50.45" width="1.80" height="457.35" fill="#1e1e1e"/>
<rect x="2153.53" y="50.45" width="1.75" height="457.35" fill="#1e1e1e"/>
<path d="M1257.17,51.45 V61.55 M1257.17,506.65 V496.67 M1305.40,51.45 V70.55 M1305.40,506.65 V487.67 M1353.64,51.45 V61.55 M1353.64,506.65 V496.67 M1401.88,51.45 V70.55 M1401.88,506.65 V487.67 M1450.12,51.45 V61.55 M1450.12,506.65 V496.67 M1498.35,51.45 V70.55 M1498.35,506.65 V487.67 M1546.59,51.45 V61.55 M1546.59,506.65 V496.67 M1594.83,51.45 V70.55 M1594.83,506.65 V487.67 M1643.06,51.45 V61.55 M1643.06,506.65 V496.67 M1691.30,51.45 V70.55 M1691.30,506.65 V487.67 M1739.54,51.45 V61.55 M1739.54,506.65 V496.67 M1787.77,51.45 V70.55 M1787.77,506.65 V487.67 M1836.01,51.45 V61.55 M1836.01,506.65 V496.67 M1884.25,51.45 V70.55 M1884.25,506.65 V487.67 M1932.48,51.45 V61.55 M1932.48,506.65 V496.67 M1980.72,51.45 V70.55 M1980.72,506.65 V487.67 M2028.96,51.45 V61.55 M2028.96,506.65 V496.67 M2077.20,51.45 V70.55 M2077.20,506.65 V487.67 M2125.43,51.45 V61.55 M2125.43,506.65 V496.67 M1228.25,483.91 h8.3 M2154.4,483.91 h-8.3 M1228.25,461.16 h8.3 M2154.4,461.16 h-8.3 M1228.25,438.40 h8.3 M2154.4,438.40 h-8.3 M1228.25,415.65 h8.3 M2154.4,415.65 h-8.3 M1228.25,392.89 h12.3 M2154.4,392.89 h-12.3 M1228.25,370.13 h8.3 M2154.4,370.13 h-8.3 M1228.25,347.38 h8.3 M2154.4,347.38 h-8.3 M1228.25,324.62 h8.3 M2154.4,324.62 h-8.3 M1228.25,301.87 h8.3 M2154.4,301.87 h-8.3 M1228.25,279.11 h12.3 M2154.4,279.11 h-12.3 M1228.25,256.35 h8.3 M2154.4,256.35 h-8.3 M1228.25,233.60 h8.3 M2154.4,233.60 h-8.3 M1228.25,210.84 h8.3 M2154.4,210.84 h-8.3 M1228.25,188.09 h8.3 M2154.4,188.09 h-8.3 M1228.25,165.33 h12.3 M2154.4,165.33 h-12.3 M1228.25,142.57 h8.3 M2154.4,142.57 h-8.3 M1228.25,119.82 h8.3 M2154.4,119.82 h-8.3 M1228.25,97.06 h8.3 M2154.4,97.06 h-8.3 M1228.25,74.31 h8.3 M2154.4,74.31 h-8.3" stroke="#1e1e1e" stroke-width="2.05" fill="none"/>
<text transform="translate(1289.70,537.75) scale(0.2145,0.2493)" font-family='"Liberation Sans", sans-serif' font-weight="normal" font-size="100" fill="#1c1c1c"  stroke="#1c1c1c" stroke-width="1.51" stroke-linejoin="round">-40</text>
<text transform="translate(1386.18,537.75) scale(0.2145,0.2493)" font-family='"Liberation Sans", sans-serif' font-weight="normal" font-size="100" fill="#1c1c1c"  stroke="#1c1c1c" stroke-width="1.51" stroke-linejoin="round">-30</text>
<text transform="translate(1482.65,537.75) scale(0.2145,0.2493)" font-family='"Liberation Sans", sans-serif' font-weight="normal" font-size="100" fill="#1c1c1c"  stroke="#1c1c1c" stroke-width="1.51" stroke-linejoin="round">-20</text>
<text transform="translate(1579.13,537.75) scale(0.2145,0.2493)" font-family='"Liberation Sans", sans-serif' font-weight="normal" font-size="100" fill="#1c1c1c"  stroke="#1c1c1c" stroke-width="1.51" stroke-linejoin="round">-10</text>
<text transform="translate(1685.10,537.75) scale(0.2162,0.2493)" font-family='"Liberation Sans", sans-serif' font-weight="normal" font-size="100" fill="#1c1c1c"  stroke="#1c1c1c" stroke-width="1.51" stroke-linejoin="round">0</text>
<text transform="translate(1775.57,537.75) scale(0.2162,0.2493)" font-family='"Liberation Sans", sans-serif' font-weight="normal" font-size="100" fill="#1c1c1c"  stroke="#1c1c1c" stroke-width="1.51" stroke-linejoin="round">10</text>
<text transform="translate(1872.05,537.75) scale(0.2162,0.2493)" font-family='"Liberation Sans", sans-serif' font-weight="normal" font-size="100" fill="#1c1c1c"  stroke="#1c1c1c" stroke-width="1.51" stroke-linejoin="round">20</text>
<text transform="translate(1968.52,537.75) scale(0.2162,0.2493)" font-family='"Liberation Sans", sans-serif' font-weight="normal" font-size="100" fill="#1c1c1c"  stroke="#1c1c1c" stroke-width="1.51" stroke-linejoin="round">30</text>
<text transform="translate(2065.00,537.75) scale(0.2162,0.2493)" font-family='"Liberation Sans", sans-serif' font-weight="normal" font-size="100" fill="#1c1c1c"  stroke="#1c1c1c" stroke-width="1.51" stroke-linejoin="round">40</text>
<text transform="translate(1211.90,174.83) scale(0.2144,0.2507)" font-family='"Liberation Sans", sans-serif' font-weight="normal" font-size="100" fill="#1c1c1c"  stroke="#1c1c1c" stroke-width="1.51" stroke-linejoin="round">0</text>
<text transform="translate(1193.20,288.61) scale(0.2118,0.2507)" font-family='"Liberation Sans", sans-serif' font-weight="normal" font-size="100" fill="#1c1c1c"  stroke="#1c1c1c" stroke-width="1.52" stroke-linejoin="round">-10</text>
<text transform="translate(1193.20,402.39) scale(0.2118,0.2507)" font-family='"Liberation Sans", sans-serif' font-weight="normal" font-size="100" fill="#1c1c1c"  stroke="#1c1c1c" stroke-width="1.52" stroke-linejoin="round">-20</text>
<text transform="translate(1193.20,516.17) scale(0.2118,0.2507)" font-family='"Liberation Sans", sans-serif' font-weight="normal" font-size="100" fill="#1c1c1c"  stroke="#1c1c1c" stroke-width="1.52" stroke-linejoin="round">-30</text>
<text transform="translate(1663.20,592.53) scale(0.2659,0.3273)" font-family='"Liberation Sans", sans-serif' font-weight="bold" font-size="100" fill="#111" >x(m)</text>
<text transform="rotate(-90 1165.15 279.65) translate(1134.00,286.89) scale(0.3032,0.2813)" font-family='"Liberation Sans", sans-serif' font-weight="bold" font-size="100" fill="#111" >z(m)</text>
</g>
<text font-family='"Liberation Serif", serif' font-size="45.00" fill="#000"><tspan x="232.00" y="697.90" font-size="46.04" textLength="13.02" lengthAdjust="spacingAndGlyphs">(</tspan><tspan x="246.90" y="697.80" font-size="45.00" font-weight="bold" textLength="20.90" lengthAdjust="spacingAndGlyphs">a</tspan><tspan x="269.10" y="697.90" font-size="46.04" textLength="11.93" lengthAdjust="spacingAndGlyphs">)</tspan> <tspan x="293.90" y="697.80" font-size="45.00" textLength="110.42" lengthAdjust="spacingAndGlyphs">mean</tspan> <tspan x="413.80" y="697.80" font-size="45.00" textLength="144.87" lengthAdjust="spacingAndGlyphs">normal</tspan> <tspan x="569.00" y="697.80" font-size="45.00" textLength="167.55" lengthAdjust="spacingAndGlyphs">effective</tspan> <tspan x="746.20" y="697.80" font-size="45.00" textLength="111.31" lengthAdjust="spacingAndGlyphs">stress</tspan></text>
<text font-family='"Liberation Serif", serif' font-size="45.00" fill="#000"><tspan x="1422.60" y="697.90" font-size="46.04" textLength="12.53" lengthAdjust="spacingAndGlyphs">(</tspan><tspan x="1436.50" y="698.00" font-size="45.00" font-weight="bold" textLength="25.55" lengthAdjust="spacingAndGlyphs">b</tspan><tspan x="1464.00" y="697.90" font-size="46.04" textLength="12.33" lengthAdjust="spacingAndGlyphs">)</tspan> <tspan x="1490.20" y="698.00" font-size="45.00" textLength="147.00" lengthAdjust="spacingAndGlyphs">vertical</tspan> <tspan x="1647.60" y="698.00" font-size="45.00" textLength="265.24" lengthAdjust="spacingAndGlyphs">displacement</tspan></text>
</svg>
</body></html>
